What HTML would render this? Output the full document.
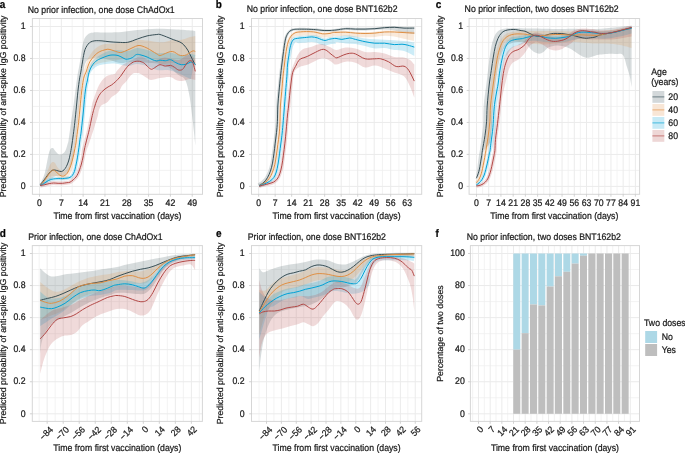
<!DOCTYPE html><html><head><meta charset="utf-8"><style>html,body{margin:0;padding:0;background:#fff;}body{width:685px;height:453px;overflow:hidden;}svg{display:block;will-change:transform;font-family:"Liberation Sans", sans-serif;}svg text{stroke:#1a1a1a;stroke-width:0.22px;text-rendering:geometricPrecision;}</style></head><body>
<svg width="685" height="453" viewBox="0 0 685 453">
<rect width="685" height="453" fill="#fff"/>
<clipPath id="clipa"><rect x="32.4" y="18.5" width="170.1" height="175.8"/></clipPath>
<line x1="32.4" y1="170.41" x2="202.5" y2="170.41" stroke="#f0f0f0" stroke-width="0.8"/><line x1="32.4" y1="138.43" x2="202.5" y2="138.43" stroke="#f0f0f0" stroke-width="0.8"/><line x1="32.4" y1="106.45" x2="202.5" y2="106.45" stroke="#f0f0f0" stroke-width="0.8"/><line x1="32.4" y1="74.47" x2="202.5" y2="74.47" stroke="#f0f0f0" stroke-width="0.8"/><line x1="32.4" y1="42.49" x2="202.5" y2="42.49" stroke="#f0f0f0" stroke-width="0.8"/><line x1="50.41" y1="18.5" x2="50.41" y2="194.3" stroke="#f0f0f0" stroke-width="0.8"/><line x1="72.23" y1="18.5" x2="72.23" y2="194.3" stroke="#f0f0f0" stroke-width="0.8"/><line x1="94.05" y1="18.5" x2="94.05" y2="194.3" stroke="#f0f0f0" stroke-width="0.8"/><line x1="115.87" y1="18.5" x2="115.87" y2="194.3" stroke="#f0f0f0" stroke-width="0.8"/><line x1="137.69" y1="18.5" x2="137.69" y2="194.3" stroke="#f0f0f0" stroke-width="0.8"/><line x1="159.5" y1="18.5" x2="159.5" y2="194.3" stroke="#f0f0f0" stroke-width="0.8"/><line x1="181.32" y1="18.5" x2="181.32" y2="194.3" stroke="#f0f0f0" stroke-width="0.8"/><line x1="32.4" y1="186.4" x2="202.5" y2="186.4" stroke="#ebebeb" stroke-width="1"/><line x1="32.4" y1="154.42" x2="202.5" y2="154.42" stroke="#ebebeb" stroke-width="1"/><line x1="32.4" y1="122.44" x2="202.5" y2="122.44" stroke="#ebebeb" stroke-width="1"/><line x1="32.4" y1="90.46" x2="202.5" y2="90.46" stroke="#ebebeb" stroke-width="1"/><line x1="32.4" y1="58.48" x2="202.5" y2="58.48" stroke="#ebebeb" stroke-width="1"/><line x1="32.4" y1="26.5" x2="202.5" y2="26.5" stroke="#ebebeb" stroke-width="1"/><line x1="39.5" y1="18.5" x2="39.5" y2="194.3" stroke="#ebebeb" stroke-width="1"/><line x1="61.32" y1="18.5" x2="61.32" y2="194.3" stroke="#ebebeb" stroke-width="1"/><line x1="83.14" y1="18.5" x2="83.14" y2="194.3" stroke="#ebebeb" stroke-width="1"/><line x1="104.96" y1="18.5" x2="104.96" y2="194.3" stroke="#ebebeb" stroke-width="1"/><line x1="126.78" y1="18.5" x2="126.78" y2="194.3" stroke="#ebebeb" stroke-width="1"/><line x1="148.59" y1="18.5" x2="148.59" y2="194.3" stroke="#ebebeb" stroke-width="1"/><line x1="170.41" y1="18.5" x2="170.41" y2="194.3" stroke="#ebebeb" stroke-width="1"/><line x1="192.23" y1="18.5" x2="192.23" y2="194.3" stroke="#ebebeb" stroke-width="1"/>
<g clip-path="url(#clipa)">
<path d="M40.2,184.2 C40.97,182.35 43.3,178.45 44.8,173.1 C46.3,167.75 47.9,156.3 49.2,152.1 C50.5,147.9 51.58,148.08 52.6,147.9 C53.62,147.72 54.3,149.93 55.3,151 C56.3,152.07 57.4,153.83 58.6,154.3 C59.8,154.77 61.4,154.35 62.5,153.8 C63.6,153.25 64.37,152.57 65.2,151 C66.03,149.43 66.93,146.23 67.5,144.4 C68.07,142.57 68.02,143.67 68.6,140 C69.18,136.33 70.22,127.92 71,122.4 C71.78,116.88 72.55,112.3 73.3,106.9 C74.05,101.5 74.82,95.15 75.5,90 C76.18,84.85 76.78,80 77.4,76 C78.02,72 78.62,69.35 79.2,66 C79.78,62.65 80.37,59.23 80.9,55.9 C81.43,52.57 81.88,48.65 82.4,46 C82.92,43.35 83.43,41.57 84,40 C84.57,38.43 84.97,37.68 85.8,36.6 C86.63,35.52 87.7,34.2 89,33.5 C90.3,32.8 91.7,32.58 93.6,32.4 C95.5,32.22 97.35,32.4 100.4,32.4 C103.45,32.4 108.3,32.47 111.9,32.4 C115.5,32.33 117.75,32.4 122,32 C126.25,31.6 131.6,30.55 137.4,30 C143.2,29.45 150.32,28.78 156.8,28.7 C163.28,28.62 170.47,29.2 176.3,29.5 C182.13,29.8 188.63,30.22 191.8,30.5 C194.97,30.78 194.72,31.08 195.3,31.2 L195.3,145.5 C195.1,143.52 194.63,138.57 194.1,133.6 C193.57,128.63 192.82,121.67 192.1,115.7 C191.38,109.73 190.68,103.08 189.8,97.8 C188.92,92.52 187.8,87.3 186.8,84 C185.8,80.7 184.93,79.33 183.8,78 C182.67,76.67 181.3,76.83 180,76 C178.7,75.17 177.67,74.33 176,73 C174.33,71.67 172.67,69.5 170,68 C167.33,66.5 163.33,64.83 160,64 C156.67,63.17 153.33,63.33 150,63 C146.67,62.67 143.33,62.17 140,62 C136.67,61.83 133.33,61.83 130,62 C126.67,62.17 123.33,63.33 120,63 C116.67,62.67 113.33,60.83 110,60 C106.67,59.17 102.67,58.33 100,58 C97.33,57.67 95.83,57.83 94,58 C92.17,58.17 90.33,58.33 89,59 C87.67,59.67 86.83,60.5 86,62 C85.17,63.5 84.62,65.33 84,68 C83.38,70.67 82.87,74 82.3,78 C81.73,82 81.15,87.17 80.6,92 C80.05,96.83 79.52,102 79,107 C78.48,112 78.08,116.5 77.5,122 C76.92,127.5 76.17,134.5 75.5,140 C74.83,145.5 74.25,150.67 73.5,155 C72.75,159.33 71.92,163.17 71,166 C70.08,168.83 69,170.5 68,172 C67,173.5 66.33,174.33 65,175 C63.67,175.67 61.67,175.75 60,176 C58.33,176.25 56.67,175.83 55,176.5 C53.33,177.17 51.67,178.75 50,180 C48.33,181.25 46.63,183 45,184 C43.37,185 41,185.67 40.2,186 Z" fill="#374E55" fill-opacity="0.2"/>
<path d="M40.2,184.5 C41,183.25 43.37,180.25 45,177 C46.63,173.75 48.73,167.5 50,165 C51.27,162.5 51.77,162.33 52.6,162 C53.43,161.67 54.1,162 55,163 C55.9,164 56.83,166.67 58,168 C59.17,169.33 60.67,170.67 62,171 C63.33,171.33 64.83,171 66,170 C67.17,169 68,167.5 69,165 C70,162.5 71.17,158.17 72,155 C72.83,151.83 73.33,150.17 74,146 C74.67,141.83 75.33,136 76,130 C76.67,124 77.33,116.33 78,110 C78.67,103.67 79.33,97.17 80,92 C80.67,86.83 81.33,82.67 82,79 C82.67,75.33 83.17,73 84,70 C84.83,67 86,63.5 87,61 C88,58.5 88.67,57 90,55 C91.33,53 93.33,50.58 95,49 C96.67,47.42 98.17,46.33 100,45.5 C101.83,44.67 104,44.33 106,44 C108,43.67 110,43.67 112,43.5 C114,43.33 115.33,43.25 118,43 C120.67,42.75 124.5,42.5 128,42 C131.5,41.5 135.83,40.25 139,40 C142.17,39.75 144,40.17 147,40.5 C150,40.83 154,41.75 157,42 C160,42.25 162.5,42.33 165,42 C167.5,41.67 169.5,40.33 172,40 C174.5,39.67 177.67,40.25 180,40 C182.33,39.75 184.33,39 186,38.5 C187.67,38 188.45,37.42 190,37 C191.55,36.58 194.42,36.17 195.3,36 L195.3,63 C194.42,63 191.88,62.67 190,63 C188.12,63.33 186.33,65 184,65 C181.67,65 178.33,63.33 176,63 C173.67,62.67 172.17,62.83 170,63 C167.83,63.17 165.17,64.17 163,64 C160.83,63.83 159.67,63 157,62 C154.33,61 150,59 147,58 C144,57 142.17,56 139,56 C135.83,56 131.5,57.33 128,58 C124.5,58.67 120.67,59.5 118,60 C115.33,60.5 114,60.67 112,61 C110,61.33 108,61.67 106,62 C104,62.33 101.83,62.5 100,63 C98.17,63.5 96.5,64.17 95,65 C93.5,65.83 92.17,66.67 91,68 C89.83,69.33 88.92,71 88,73 C87.08,75 86.25,76.83 85.5,80 C84.75,83.17 84.12,87.33 83.5,92 C82.88,96.67 82.38,102.67 81.8,108 C81.22,113.33 80.55,119 80,124 C79.45,129 79.08,133.33 78.5,138 C77.92,142.67 77.17,148 76.5,152 C75.83,156 75.25,159 74.5,162 C73.75,165 72.92,167.67 72,170 C71.08,172.33 70,174.5 69,176 C68,177.5 67,178.33 66,179 C65,179.67 64,180 63,180 C62,180 61.33,179.67 60,179 C58.67,178.33 56.67,176.33 55,176 C53.33,175.67 51.67,176.17 50,177 C48.33,177.83 46.63,179.58 45,181 C43.37,182.42 41,184.75 40.2,185.5 Z" fill="#DF8F44" fill-opacity="0.2"/>
<path d="M39.46,183.77 C40.02,183.5 41.74,182.77 42.85,182.13 C43.96,181.49 45,180.61 46.14,179.94 C47.28,179.27 48.49,178.56 49.71,178.11 C50.93,177.66 52.07,177.42 53.46,177.22 C54.85,177.02 56.55,176.95 58.04,176.9 C59.53,176.85 61.17,176.95 62.43,176.9 C63.69,176.85 64.75,176.7 65.62,176.61 C66.49,176.52 67.05,176.45 67.64,176.34 C68.23,176.23 68.57,176.27 69.14,175.94 C69.71,175.61 70.43,175.22 71.04,174.38 C71.65,173.54 72.32,172.25 72.8,170.91 C73.28,169.57 73.55,168.01 73.94,166.32 C74.33,164.63 74.75,162.75 75.13,160.78 C75.51,158.81 75.92,156.37 76.22,154.53 C76.52,152.69 76.69,151.38 76.92,149.76 C77.15,148.13 77.38,146.58 77.61,144.78 C77.84,142.98 78.05,140.81 78.32,138.96 C78.59,137.11 78.92,135.88 79.22,133.67 C79.52,131.46 79.81,128.35 80.11,125.71 C80.41,123.07 80.73,120.46 81.01,117.82 C81.29,115.17 81.56,112.5 81.81,109.84 C82.06,107.18 82.23,104.85 82.51,101.84 C82.79,98.83 83.16,94.65 83.51,91.79 C83.86,88.93 84.3,86.98 84.63,84.68 C84.96,82.38 85.02,80.28 85.5,78 C85.98,75.72 86.75,73.17 87.5,71 C88.25,68.83 89.08,66.75 90,65 C90.92,63.25 91.83,61.83 93,60.5 C94.17,59.17 95.67,58 97,57 C98.33,56 99.5,55.33 101,54.5 C102.5,53.67 104.17,52.67 106,52 C107.83,51.33 110,50.83 112,50.5 C114,50.17 115.33,49.92 118,50 C120.67,50.08 124.83,51.33 128,51 C131.17,50.67 133.83,48.17 137,48 C140.17,47.83 143.67,49.17 147,50 C150.33,50.83 153.83,52.5 157,53 C160.17,53.5 163.5,53 166,53 C168.5,53 169.67,52.67 172,53 C174.33,53.33 177.67,54.67 180,55 C182.33,55.33 184.17,55.17 186,55 C187.83,54.83 189.45,54 191,54 C192.55,54 194.58,54.83 195.3,55 L191,79 C190.17,78.67 187.83,77.83 186,77 C184.17,76.17 182.33,75 180,74 C177.67,73 174.33,71.67 172,71 C169.67,70.33 168.5,70.17 166,70 C163.5,69.83 160.17,70.67 157,70 C153.83,69.33 150.33,67 147,66 C143.67,65 140.17,64 137,64 C133.83,64 131.17,66 128,66 C124.83,66 120.67,64.42 118,64 C115.33,63.58 114,63.5 112,63.5 C110,63.5 108,63.75 106,64 C104,64.25 101.83,64.42 100,65 C98.17,65.58 96.5,66.33 95,67.5 C93.5,68.67 92.08,70.25 91,72 C89.92,73.75 88.77,76.6 88.5,78 C88.23,79.4 89.41,79.15 89.36,80.38 C89.31,81.61 88.55,83.38 88.17,85.36 C87.79,87.34 87.44,89.43 87.09,92.23 C86.74,95.03 86.37,99.19 86.09,102.18 C85.81,105.17 85.64,107.51 85.39,110.18 C85.14,112.85 84.87,115.55 84.59,118.2 C84.31,120.86 83.99,123.45 83.69,126.11 C83.39,128.77 83.08,131.92 82.78,134.15 C82.48,136.38 82.15,137.62 81.88,139.47 C81.61,141.32 81.41,143.44 81.18,145.24 C80.95,147.04 80.71,148.63 80.48,150.27 C80.25,151.91 80.08,153.23 79.78,155.1 C79.48,156.97 79.06,159.46 78.67,161.46 C78.28,163.47 77.87,165.35 77.45,167.13 C77.03,168.91 76.77,170.59 76.18,172.16 C75.59,173.73 74.79,175.39 73.92,176.54 C73.05,177.69 71.89,178.49 70.97,179.04 C70.05,179.59 69.23,179.67 68.4,179.86 C67.57,180.05 66.98,180.08 66.01,180.19 C65.04,180.3 63.88,180.45 62.57,180.5 C61.26,180.55 59.59,180.45 58.16,180.5 C56.73,180.55 55.17,180.62 53.97,180.78 C52.77,180.94 51.96,181.1 50.96,181.48 C49.96,181.86 49.02,182.41 47.97,183.04 C46.92,183.67 45.81,184.59 44.65,185.25 C43.49,185.91 41.63,186.72 41.03,187.01 Z" fill="#00A1D5" fill-opacity="0.2"/>
<path d="M39.86,183.53 C40.62,183.4 42.9,183.06 44.39,182.74 C45.88,182.43 47.28,181.93 48.82,181.64 C50.36,181.35 52.07,181.06 53.63,181 C55.19,180.94 56.72,181.25 58.17,181.3 C59.62,181.35 60.95,181.4 62.36,181.3 C63.77,181.2 65.48,180.87 66.61,180.72 C67.74,180.57 68.28,180.78 69.16,180.38 C70.04,179.97 71.01,179.06 71.89,178.29 C72.77,177.52 73.73,176.67 74.43,175.77 C75.13,174.88 75.58,174.01 76.11,172.92 C76.64,171.83 77.11,170.61 77.62,169.21 C78.13,167.81 78.73,166.1 79.18,164.54 C79.64,162.98 79.99,161.4 80.35,159.85 C80.71,158.3 81.1,156.86 81.34,155.22 C81.58,153.58 81.51,151.64 81.8,150 C82.09,148.36 82.67,147.05 83.1,145.4 C83.53,143.75 83.95,141.87 84.4,140.1 C84.85,138.33 85.35,136.57 85.8,134.8 C86.25,133.03 86.67,131.42 87.1,129.5 C87.53,127.58 87.97,125.37 88.4,123.3 C88.83,121.23 89.25,119.32 89.7,117.1 C90.15,114.88 90.68,112.25 91.1,110 C91.52,107.75 91.75,105.47 92.2,103.6 C92.65,101.73 93.27,100.38 93.8,98.8 C94.33,97.22 94.87,95.6 95.4,94.1 C95.93,92.6 96.38,91.3 97,89.8 C97.62,88.3 98.27,86.65 99.1,85.1 C99.93,83.55 101.02,81.77 102,80.5 C102.98,79.23 104,78.33 105,77.5 C106,76.67 106.83,75.98 108,75.5 C109.17,75.02 110.83,74.88 112,74.6 C113.17,74.32 114.13,74.48 115,73.8 C115.87,73.12 116.37,71.55 117.2,70.5 C118.03,69.45 119.18,68.38 120,67.5 C120.82,66.62 121.1,65.95 122.1,65.2 C123.1,64.45 124.68,63.7 126,63 C127.32,62.3 128.67,61.67 130,61 C131.33,60.33 132.83,59.58 134,59 C135.17,58.42 136,57.92 137,57.5 C138,57.08 139,56.58 140,56.5 C141,56.42 141.17,56.25 143,57 C144.83,57.75 148.33,60.67 151,61 C153.67,61.33 156.67,59.58 159,59 C161.33,58.42 162.83,57.5 165,57.5 C167.17,57.5 169.67,58.58 172,59 C174.33,59.42 177,60.33 179,60 C181,59.67 182.5,57.83 184,57 C185.5,56.17 186.67,55.17 188,55 C189.33,54.83 190.78,55.17 192,56 C193.22,56.83 194.75,59.33 195.3,60 L195.3,80 C194.42,79.83 192.22,78.83 190,79 C187.78,79.17 184.33,80.83 182,81 C179.67,81.17 178,80.67 176,80 C174,79.33 172.67,77.33 170,77 C167.33,76.67 163.17,77.5 160,78 C156.83,78.5 153.17,80 151,80 C148.83,80 148.83,79.05 147,78 C145.17,76.95 141.8,74.53 140,73.7 C138.2,72.87 137.42,73 136.2,73 C134.98,73 133.87,73 132.7,73.7 C131.53,74.4 130.37,75.8 129.2,77.2 C128.03,78.6 126.88,80.68 125.7,82.1 C124.52,83.52 123.12,84.32 122.1,85.7 C121.08,87.08 120.75,88.88 119.6,90.4 C118.45,91.92 116.38,93.78 115.2,94.8 C114.02,95.82 113.23,95.95 112.5,96.5 C111.77,97.05 111.53,97.27 110.8,98.1 C110.07,98.93 109.07,100.58 108.1,101.5 C107.13,102.42 106.05,102.98 105,103.6 C103.95,104.22 102.55,104.72 101.8,105.2 C101.05,105.68 100.97,105.7 100.5,106.5 C100.03,107.3 99.47,108.38 99,110 C98.53,111.62 98.28,113.98 97.7,116.2 C97.12,118.42 96.17,121.08 95.5,123.3 C94.83,125.52 94.3,127.58 93.7,129.5 C93.1,131.42 92.48,133.03 91.9,134.8 C91.32,136.57 90.78,138.33 90.2,140.1 C89.62,141.87 89,143.75 88.4,145.4 C87.8,147.05 87.12,148.24 86.6,150 C86.08,151.76 85.65,154.19 85.26,155.98 C84.87,157.77 84.62,159.14 84.25,160.75 C83.88,162.36 83.5,164.02 83.02,165.66 C82.54,167.3 81.94,169.09 81.38,170.59 C80.82,172.09 80.33,173.41 79.69,174.68 C79.05,175.95 78.43,177.12 77.57,178.23 C76.71,179.33 75.63,180.34 74.51,181.31 C73.39,182.28 72.06,183.46 70.84,184.02 C69.62,184.58 68.56,184.47 67.19,184.68 C65.82,184.89 64.17,185.2 62.64,185.3 C61.11,185.4 59.51,185.35 58.03,185.3 C56.55,185.25 55.18,184.96 53.77,185 C52.36,185.04 51.01,185.28 49.58,185.56 C48.15,185.84 46.72,186.34 45.21,186.66 C43.7,186.98 41.32,187.34 40.54,187.47 Z" fill="#B24745" fill-opacity="0.2"/>
<path d="M40.2,184.7 C40.6,184.23 41.65,183.1 42.6,181.9 C43.55,180.7 44.8,178.97 45.9,177.5 C47,176.03 48.18,174.28 49.2,173.1 C50.22,171.92 51.07,170.92 52,170.4 C52.93,169.88 53.78,169.92 54.8,170 C55.82,170.08 57,170.65 58.1,170.9 C59.2,171.15 60.4,171.68 61.4,171.5 C62.4,171.32 63.27,170.63 64.1,169.8 C64.93,168.97 65.65,167.97 66.4,166.5 C67.15,165.03 67.97,163.03 68.6,161 C69.23,158.97 69.68,156.8 70.2,154.3 C70.72,151.8 71.18,149.27 71.7,146 C72.22,142.73 72.78,138.63 73.3,134.7 C73.82,130.77 74.28,127.03 74.8,122.4 C75.32,117.77 75.88,112.05 76.4,106.9 C76.92,101.75 77.38,96.13 77.9,91.5 C78.42,86.87 79.03,82.2 79.5,79.1 C79.97,76 80.27,75.38 80.7,72.9 C81.13,70.42 81.62,67.12 82.1,64.2 C82.58,61.28 83.12,57.83 83.6,55.4 C84.08,52.97 84.43,51.22 85,49.6 C85.57,47.98 86.27,46.83 87,45.7 C87.73,44.57 88.52,43.53 89.4,42.8 C90.28,42.07 91.17,41.65 92.3,41.3 C93.43,40.95 94.58,40.77 96.2,40.7 C97.82,40.63 99.7,40.72 102,40.9 C104.3,41.08 107.33,41.57 110,41.8 C112.67,42.03 115.05,42.22 118,42.3 C120.95,42.38 124.47,42.85 127.7,42.3 C130.93,41.75 134.17,40.07 137.4,39 C140.63,37.93 143.87,36.65 147.1,35.9 C150.33,35.15 154.65,34.73 156.8,34.5 C158.95,34.27 158.37,34.1 160,34.5 C161.63,34.9 164.4,36.05 166.6,36.9 C168.8,37.75 170.98,38.75 173.2,39.6 C175.42,40.45 178.13,41.12 179.9,42 C181.67,42.88 182.48,43.53 183.8,44.9 C185.12,46.27 186.58,48.22 187.8,50.2 C189.02,52.18 190.1,54.82 191.1,56.8 C192.1,58.78 193.1,60.8 193.8,62.1 C194.5,63.4 195.05,64.18 195.3,64.6" fill="none" stroke="#374E55" stroke-width="1.0" stroke-linejoin="round" stroke-linecap="butt"/>
<path d="M40.2,185 C40.6,184.67 41.65,184.07 42.6,183 C43.55,181.93 44.8,180.15 45.9,178.6 C47,177.05 48.18,175.07 49.2,173.7 C50.22,172.33 51.17,170.95 52,170.4 C52.83,169.85 53.37,170.03 54.2,170.4 C55.03,170.77 56.08,171.82 57,172.6 C57.92,173.38 58.78,174.5 59.7,175.1 C60.62,175.7 61.58,176.17 62.5,176.2 C63.42,176.23 64.28,176 65.2,175.3 C66.12,174.6 67.07,173.65 68,172 C68.93,170.35 69.97,167.78 70.8,165.4 C71.63,163.02 72.37,160.27 73,157.7 C73.63,155.13 74.13,152.28 74.6,150 C75.07,147.72 75.4,146.55 75.8,144 C76.2,141.45 76.53,138.3 77,134.7 C77.47,131.1 78.08,127.02 78.6,122.4 C79.12,117.78 79.6,112.07 80.1,107 C80.6,101.93 81.07,96.5 81.6,92 C82.13,87.5 82.77,82.87 83.3,80 C83.83,77.13 84.27,76.3 84.8,74.8 C85.33,73.3 85.97,72.45 86.5,71 C87.03,69.55 87.43,67.65 88,66.1 C88.57,64.55 89.18,63 89.9,61.7 C90.62,60.4 91.42,59.43 92.3,58.3 C93.18,57.17 94.22,55.87 95.2,54.9 C96.18,53.93 97.22,53.15 98.2,52.5 C99.18,51.85 100.13,51.4 101.1,51 C102.07,50.6 102.87,50.4 104,50.1 C105.13,49.8 106.58,49.2 107.9,49.2 C109.22,49.2 110.65,49.75 111.9,50.1 C113.15,50.45 114.25,50.92 115.4,51.3 C116.55,51.68 117.7,52.23 118.8,52.4 C119.9,52.57 120.52,52.7 122,52.3 C123.48,51.9 125.87,50.8 127.7,50 C129.53,49.2 131.28,48.25 133,47.5 C134.72,46.75 136.5,45.75 138,45.5 C139.5,45.25 140.48,45.57 142,46 C143.52,46.43 145.43,47.27 147.1,48.1 C148.77,48.93 150.38,50.03 152,51 C153.62,51.97 155.47,53.15 156.8,53.9 C158.13,54.65 158.58,55.57 160,55.5 C161.42,55.43 163.53,54.17 165.3,53.5 C167.07,52.83 169.05,51.72 170.6,51.5 C172.15,51.28 173.28,51.65 174.6,52.2 C175.92,52.75 177.18,54.22 178.5,54.8 C179.82,55.38 181.17,55.7 182.5,55.7 C183.83,55.7 185.17,55.38 186.5,54.8 C187.83,54.22 189.4,52.87 190.5,52.2 C191.6,51.53 192.3,50.92 193.1,50.8 C193.9,50.68 194.93,51.38 195.3,51.5" fill="none" stroke="#DF8F44" stroke-width="1.0" stroke-linejoin="round" stroke-linecap="butt"/>
<path d="M40.2,185.3 C40.78,185.02 42.57,184.25 43.7,183.6 C44.83,182.95 45.9,182.05 47,181.4 C48.1,180.75 49.18,180.12 50.3,179.7 C51.42,179.28 52.4,179.08 53.7,178.9 C55,178.72 56.63,178.65 58.1,178.6 C59.57,178.55 61.22,178.65 62.5,178.6 C63.78,178.55 64.88,178.4 65.8,178.3 C66.72,178.2 67.3,178.15 68,178 C68.7,177.85 69.27,177.83 70,177.4 C70.73,176.97 71.67,176.38 72.4,175.4 C73.13,174.42 73.87,172.95 74.4,171.5 C74.93,170.05 75.2,168.43 75.6,166.7 C76,164.97 76.42,163.08 76.8,161.1 C77.18,159.12 77.6,156.65 77.9,154.8 C78.2,152.95 78.37,151.63 78.6,150 C78.83,148.37 79.07,146.8 79.3,145 C79.53,143.2 79.73,141.05 80,139.2 C80.27,137.35 80.6,136.12 80.9,133.9 C81.2,131.68 81.5,128.55 81.8,125.9 C82.1,123.25 82.42,120.65 82.7,118 C82.98,115.35 83.25,112.67 83.5,110 C83.75,107.33 83.92,105 84.2,102 C84.48,99 84.85,94.83 85.2,92 C85.55,89.17 85.92,87 86.3,85 C86.68,83 87.15,81.7 87.5,80 C87.85,78.3 88,76.47 88.4,74.8 C88.8,73.13 89.33,71.45 89.9,70 C90.47,68.55 91.07,67.32 91.8,66.1 C92.53,64.88 93.4,63.67 94.3,62.7 C95.2,61.73 96.23,60.95 97.2,60.3 C98.17,59.65 99.13,59.25 100.1,58.8 C101.07,58.35 102.03,58 103,57.6 C103.97,57.2 104.73,56.8 105.9,56.4 C107.07,56 108.65,55.43 110,55.2 C111.35,54.97 112.67,54.95 114,55 C115.33,55.05 116.65,55.1 118,55.5 C119.35,55.9 120.82,56.78 122.1,57.4 C123.38,58.02 124.52,58.97 125.7,59.2 C126.88,59.43 128.03,59.1 129.2,58.8 C130.37,58.5 131.48,58.12 132.7,57.4 C133.92,56.68 135.12,54.9 136.5,54.5 C137.88,54.1 139.23,54.58 141,55 C142.77,55.42 145.27,56.25 147.1,57 C148.93,57.75 150.38,58.83 152,59.5 C153.62,60.17 155.47,60.9 156.8,61 C158.13,61.1 158.58,60.13 160,60.1 C161.42,60.07 163.53,60.87 165.3,60.8 C167.07,60.73 168.83,59.38 170.6,59.7 C172.37,60.02 174.13,61.87 175.9,62.7 C177.67,63.53 179.43,64.47 181.2,64.7 C182.97,64.93 184.95,64.53 186.5,64.1 C188.05,63.67 189.4,62.33 190.5,62.1 C191.6,61.87 192.3,62.3 193.1,62.7 C193.9,63.1 194.93,64.2 195.3,64.5" fill="none" stroke="#00A1D5" stroke-width="1.0" stroke-linejoin="round" stroke-linecap="butt"/>
<path d="M40.2,185.5 C40.97,185.37 43.3,185.02 44.8,184.7 C46.3,184.38 47.72,183.88 49.2,183.6 C50.68,183.32 52.22,183.05 53.7,183 C55.18,182.95 56.63,183.25 58.1,183.3 C59.57,183.35 61.03,183.4 62.5,183.3 C63.97,183.2 65.65,182.88 66.9,182.7 C68.15,182.52 68.95,182.68 70,182.2 C71.05,181.72 72.2,180.67 73.2,179.8 C74.2,178.93 75.22,178 76,177 C76.78,176 77.32,174.98 77.9,173.8 C78.48,172.62 78.97,171.35 79.5,169.9 C80.03,168.45 80.63,166.7 81.1,165.1 C81.57,163.5 81.93,161.88 82.3,160.3 C82.67,158.72 82.97,157.32 83.3,155.6 C83.63,153.88 83.97,151.7 84.3,150 C84.63,148.3 84.92,147.05 85.3,145.4 C85.68,143.75 86.15,141.87 86.6,140.1 C87.05,138.33 87.55,136.57 88,134.8 C88.45,133.03 88.87,131.42 89.3,129.5 C89.73,127.58 90.17,125.37 90.6,123.3 C91.03,121.23 91.42,119.23 91.9,117.1 C92.38,114.97 93.05,112.18 93.5,110.5 C93.95,108.82 94.25,108.15 94.6,107 C94.95,105.85 95.23,104.72 95.6,103.6 C95.97,102.48 96.35,101.4 96.8,100.3 C97.25,99.2 97.73,98.08 98.3,97 C98.87,95.92 99.53,94.73 100.2,93.8 C100.87,92.87 101.5,92.2 102.3,91.4 C103.1,90.6 104.03,89.75 105,89 C105.97,88.25 107.02,87.57 108.1,86.9 C109.18,86.23 110.33,85.8 111.5,85 C112.67,84.2 114.03,83.05 115.1,82.1 C116.17,81.15 117.02,80.23 117.9,79.3 C118.78,78.37 119.58,77.55 120.4,76.5 C121.22,75.45 121.98,74.18 122.8,73 C123.62,71.82 124.47,70.53 125.3,69.4 C126.13,68.27 126.92,67.13 127.8,66.2 C128.68,65.27 129.67,64.5 130.6,63.8 C131.53,63.1 132.47,62.42 133.4,62 C134.33,61.58 135.18,61.42 136.2,61.3 C137.22,61.18 138.45,61.13 139.5,61.3 C140.55,61.47 141.67,61.95 142.5,62.3 C143.33,62.65 143.67,62.7 144.5,63.4 C145.33,64.1 146.42,65.53 147.5,66.5 C148.58,67.47 150,68.87 151,69.2 C152,69.53 152.67,68.9 153.5,68.5 C154.33,68.1 154.92,67.43 156,66.8 C157.08,66.17 158.45,64.82 160,64.7 C161.55,64.58 163.53,65.98 165.3,66.1 C167.07,66.22 169.05,65.18 170.6,65.4 C172.15,65.62 173.28,66.63 174.6,67.4 C175.92,68.17 177.18,69.67 178.5,70 C179.82,70.33 181.28,70.28 182.5,69.4 C183.72,68.52 184.8,66.03 185.8,64.7 C186.8,63.37 187.62,62.05 188.5,61.4 C189.38,60.75 190.33,60.47 191.1,60.8 C191.87,61.13 192.4,61.63 193.1,63.4 C193.8,65.17 194.93,70.07 195.3,71.4" fill="none" stroke="#B24745" stroke-width="1.0" stroke-linejoin="round" stroke-linecap="butt"/>
</g>
<rect x="32.4" y="18.5" width="170.1" height="175.8" fill="none" stroke="#d6d6d6" stroke-width="1"/>
<line x1="30" y1="186.4" x2="32.4" y2="186.4" stroke="#c8c8c8" stroke-width="0.8"/><line x1="30" y1="154.42" x2="32.4" y2="154.42" stroke="#c8c8c8" stroke-width="0.8"/><line x1="30" y1="122.44" x2="32.4" y2="122.44" stroke="#c8c8c8" stroke-width="0.8"/><line x1="30" y1="90.46" x2="32.4" y2="90.46" stroke="#c8c8c8" stroke-width="0.8"/><line x1="30" y1="58.48" x2="32.4" y2="58.48" stroke="#c8c8c8" stroke-width="0.8"/><line x1="30" y1="26.5" x2="32.4" y2="26.5" stroke="#c8c8c8" stroke-width="0.8"/><line x1="39.5" y1="194.3" x2="39.5" y2="196.7" stroke="#c8c8c8" stroke-width="0.8"/><line x1="61.32" y1="194.3" x2="61.32" y2="196.7" stroke="#c8c8c8" stroke-width="0.8"/><line x1="83.14" y1="194.3" x2="83.14" y2="196.7" stroke="#c8c8c8" stroke-width="0.8"/><line x1="104.96" y1="194.3" x2="104.96" y2="196.7" stroke="#c8c8c8" stroke-width="0.8"/><line x1="126.78" y1="194.3" x2="126.78" y2="196.7" stroke="#c8c8c8" stroke-width="0.8"/><line x1="148.59" y1="194.3" x2="148.59" y2="196.7" stroke="#c8c8c8" stroke-width="0.8"/><line x1="170.41" y1="194.3" x2="170.41" y2="196.7" stroke="#c8c8c8" stroke-width="0.8"/><line x1="192.23" y1="194.3" x2="192.23" y2="196.7" stroke="#c8c8c8" stroke-width="0.8"/>
<text transform="translate(25.6,189.1) scale(1,1.1)" font-size="8.73" text-anchor="end" font-weight="normal" fill="#1a1a1a">0</text>
<text transform="translate(25.6,157.12) scale(1,1.1)" font-size="8.73" text-anchor="end" font-weight="normal" fill="#1a1a1a">0.2</text>
<text transform="translate(25.6,125.14) scale(1,1.1)" font-size="8.73" text-anchor="end" font-weight="normal" fill="#1a1a1a">0.4</text>
<text transform="translate(25.6,93.16) scale(1,1.1)" font-size="8.73" text-anchor="end" font-weight="normal" fill="#1a1a1a">0.6</text>
<text transform="translate(25.6,61.18) scale(1,1.1)" font-size="8.73" text-anchor="end" font-weight="normal" fill="#1a1a1a">0.8</text>
<text transform="translate(25.6,29.2) scale(1,1.1)" font-size="8.73" text-anchor="end" font-weight="normal" fill="#1a1a1a">1</text>
<text transform="translate(39.5,205.6) scale(1,1.1)" font-size="8.73" text-anchor="middle" font-weight="normal" fill="#1a1a1a">0</text>
<text transform="translate(61.32,205.6) scale(1,1.1)" font-size="8.73" text-anchor="middle" font-weight="normal" fill="#1a1a1a">7</text>
<text transform="translate(83.14,205.6) scale(1,1.1)" font-size="8.73" text-anchor="middle" font-weight="normal" fill="#1a1a1a">14</text>
<text transform="translate(104.96,205.6) scale(1,1.1)" font-size="8.73" text-anchor="middle" font-weight="normal" fill="#1a1a1a">21</text>
<text transform="translate(126.78,205.6) scale(1,1.1)" font-size="8.73" text-anchor="middle" font-weight="normal" fill="#1a1a1a">28</text>
<text transform="translate(148.59,205.6) scale(1,1.1)" font-size="8.73" text-anchor="middle" font-weight="normal" fill="#1a1a1a">35</text>
<text transform="translate(170.41,205.6) scale(1,1.1)" font-size="8.73" text-anchor="middle" font-weight="normal" fill="#1a1a1a">42</text>
<text transform="translate(192.23,205.6) scale(1,1.1)" font-size="8.73" text-anchor="middle" font-weight="normal" fill="#1a1a1a">49</text>
<text transform="translate(27.8,12.6) scale(1,1.1)" font-size="8.73" text-anchor="start" font-weight="normal" fill="#1a1a1a">No prior infection, one dose ChAdOx1</text>
<text transform="translate(117.45,219) scale(1,1.1)" font-size="8.73" text-anchor="middle" font-weight="normal" fill="#1a1a1a">Time from first vaccination (days)</text>
<text transform="translate(6,106.4) rotate(-90)" font-size="8.77" text-anchor="middle" fill="#1a1a1a">Predicted probability of anti-spike IgG positivity</text>
<text transform="translate(-0.3,7.9) scale(1,1.1)" font-size="10" text-anchor="start" font-weight="bold" fill="#000">a</text>
<clipPath id="clipb"><rect x="251.5" y="18.5" width="170.2" height="175.8"/></clipPath>
<line x1="251.5" y1="170.41" x2="421.7" y2="170.41" stroke="#f0f0f0" stroke-width="0.8"/><line x1="251.5" y1="138.43" x2="421.7" y2="138.43" stroke="#f0f0f0" stroke-width="0.8"/><line x1="251.5" y1="106.45" x2="421.7" y2="106.45" stroke="#f0f0f0" stroke-width="0.8"/><line x1="251.5" y1="74.47" x2="421.7" y2="74.47" stroke="#f0f0f0" stroke-width="0.8"/><line x1="251.5" y1="42.49" x2="421.7" y2="42.49" stroke="#f0f0f0" stroke-width="0.8"/><line x1="266.9" y1="18.5" x2="266.9" y2="194.3" stroke="#f0f0f0" stroke-width="0.8"/><line x1="283.41" y1="18.5" x2="283.41" y2="194.3" stroke="#f0f0f0" stroke-width="0.8"/><line x1="299.91" y1="18.5" x2="299.91" y2="194.3" stroke="#f0f0f0" stroke-width="0.8"/><line x1="316.42" y1="18.5" x2="316.42" y2="194.3" stroke="#f0f0f0" stroke-width="0.8"/><line x1="332.93" y1="18.5" x2="332.93" y2="194.3" stroke="#f0f0f0" stroke-width="0.8"/><line x1="349.43" y1="18.5" x2="349.43" y2="194.3" stroke="#f0f0f0" stroke-width="0.8"/><line x1="365.94" y1="18.5" x2="365.94" y2="194.3" stroke="#f0f0f0" stroke-width="0.8"/><line x1="382.44" y1="18.5" x2="382.44" y2="194.3" stroke="#f0f0f0" stroke-width="0.8"/><line x1="398.95" y1="18.5" x2="398.95" y2="194.3" stroke="#f0f0f0" stroke-width="0.8"/><line x1="415.46" y1="18.5" x2="415.46" y2="194.3" stroke="#f0f0f0" stroke-width="0.8"/><line x1="251.5" y1="186.4" x2="421.7" y2="186.4" stroke="#ebebeb" stroke-width="1"/><line x1="251.5" y1="154.42" x2="421.7" y2="154.42" stroke="#ebebeb" stroke-width="1"/><line x1="251.5" y1="122.44" x2="421.7" y2="122.44" stroke="#ebebeb" stroke-width="1"/><line x1="251.5" y1="90.46" x2="421.7" y2="90.46" stroke="#ebebeb" stroke-width="1"/><line x1="251.5" y1="58.48" x2="421.7" y2="58.48" stroke="#ebebeb" stroke-width="1"/><line x1="251.5" y1="26.5" x2="421.7" y2="26.5" stroke="#ebebeb" stroke-width="1"/><line x1="258.65" y1="18.5" x2="258.65" y2="194.3" stroke="#ebebeb" stroke-width="1"/><line x1="275.16" y1="18.5" x2="275.16" y2="194.3" stroke="#ebebeb" stroke-width="1"/><line x1="291.66" y1="18.5" x2="291.66" y2="194.3" stroke="#ebebeb" stroke-width="1"/><line x1="308.17" y1="18.5" x2="308.17" y2="194.3" stroke="#ebebeb" stroke-width="1"/><line x1="324.67" y1="18.5" x2="324.67" y2="194.3" stroke="#ebebeb" stroke-width="1"/><line x1="341.18" y1="18.5" x2="341.18" y2="194.3" stroke="#ebebeb" stroke-width="1"/><line x1="357.69" y1="18.5" x2="357.69" y2="194.3" stroke="#ebebeb" stroke-width="1"/><line x1="374.19" y1="18.5" x2="374.19" y2="194.3" stroke="#ebebeb" stroke-width="1"/><line x1="390.7" y1="18.5" x2="390.7" y2="194.3" stroke="#ebebeb" stroke-width="1"/><line x1="407.2" y1="18.5" x2="407.2" y2="194.3" stroke="#ebebeb" stroke-width="1"/>
<g clip-path="url(#clipb)">
<path d="M257.65,183.71 C258.4,183.18 260.84,181.72 262.14,180.54 C263.44,179.36 264.43,178.29 265.47,176.61 C266.51,174.94 267.57,172.8 268.4,170.49 C269.23,168.18 269.88,165.57 270.47,162.74 C271.06,159.91 271.47,156.82 271.94,153.53 C272.41,150.24 272.85,146.49 273.31,142.97 C273.77,139.45 274.3,135.98 274.68,132.41 C275.06,128.84 275.37,125.99 275.61,121.57 C275.85,117.14 275.81,110.85 276.1,105.86 C276.39,100.87 276.89,96.59 277.37,91.64 C277.85,86.69 278.46,80.61 278.95,76.14 C279.44,71.67 279.8,68.96 280.33,64.82 C280.86,60.68 281.51,55.49 282.13,51.31 C282.75,47.13 283.39,42.59 284.03,39.73 C284.66,36.86 285.13,35.71 285.94,34.12 C286.75,32.53 287.7,31.16 288.87,30.2 C290.04,29.24 291.51,28.72 292.98,28.34 C294.45,27.96 295.4,27.97 297.66,27.9 C299.92,27.83 303.57,27.83 306.53,27.9 C309.48,27.97 313.16,28.15 315.39,28.3 C317.62,28.45 318.45,28.66 319.93,28.81 C321.41,28.96 322.58,29.13 324.25,29.2 C325.92,29.27 328.01,29.28 329.94,29.2 C331.87,29.12 333.23,29.01 335.85,28.71 C338.47,28.41 342.38,27.55 345.64,27.4 C348.9,27.25 352.19,27.73 355.43,27.8 C358.67,27.87 361.86,27.87 365.07,27.8 C368.28,27.73 371.49,27.63 374.71,27.4 C377.93,27.17 381.14,26.63 384.41,26.4 C387.68,26.17 391.06,25.93 394.33,26 C397.6,26.07 400.72,26.67 404.05,26.8 C407.38,26.93 412.59,26.8 414.3,26.8 L414.3,34.1 C412.55,33.87 407.16,33.3 403.82,32.71 C400.48,32.12 397.43,31.09 394.23,30.58 C391.03,30.06 387.86,29.72 384.64,29.62 C381.42,29.52 378.14,29.87 374.89,30 C371.64,30.13 368.38,30.33 365.13,30.4 C361.88,30.47 358.6,30.47 355.37,30.4 C352.14,30.33 348.96,29.85 345.76,30 C342.56,30.15 338.77,30.99 336.15,31.29 C333.53,31.59 332.06,31.71 330.06,31.8 C328.06,31.89 325.88,31.87 324.15,31.8 C322.42,31.73 321.16,31.54 319.67,31.39 C318.18,31.24 317.41,31.05 315.21,30.9 C313.01,30.75 309.38,30.57 306.47,30.5 C303.56,30.43 299.88,30.44 297.74,30.5 C295.6,30.56 294.82,30.58 293.62,30.86 C292.42,31.14 291.42,31.46 290.53,32.2 C289.64,32.94 288.92,33.94 288.26,35.28 C287.6,36.62 287.15,37.54 286.57,40.27 C285.99,43 285.37,47.53 284.79,51.68 C284.21,55.83 283.59,61.03 283.09,65.16 C282.59,69.29 282.26,71.98 281.79,76.44 C281.32,80.9 280.74,86.99 280.29,91.93 C279.85,96.87 279.39,101.12 279.12,106.1 C278.85,111.08 278.9,117.36 278.68,121.8 C278.46,126.24 278.16,129.15 277.79,132.74 C277.43,136.33 276.92,139.82 276.49,143.36 C276.06,146.9 275.64,150.64 275.19,153.97 C274.74,157.3 274.37,160.41 273.78,163.33 C273.19,166.25 272.53,168.97 271.66,171.47 C270.79,173.97 269.69,176.35 268.55,178.31 C267.41,180.27 266.25,181.8 264.82,183.22 C263.39,184.64 260.79,186.24 259.98,186.84 Z" fill="#374E55" fill-opacity="0.2"/>
<path d="M258.5,184.59 C259.49,184.02 262.84,182.36 264.46,181.18 C266.07,180 267.09,179.06 268.19,177.52 C269.29,175.98 270.18,174.19 271.05,171.95 C271.92,169.71 272.77,166.94 273.43,164.11 C274.09,161.28 274.52,158.27 275.02,154.99 C275.52,151.71 275.95,147.94 276.41,144.42 C276.88,140.9 277.45,137.66 277.81,133.86 C278.17,130.06 278.38,126.27 278.58,121.61 C278.78,116.95 278.72,110.87 279.01,105.88 C279.3,100.89 279.88,96.62 280.31,91.67 C280.74,86.72 281.16,80.63 281.61,76.16 C282.06,71.69 282.56,68.52 283.01,64.83 C283.46,61.13 283.8,57.45 284.32,53.99 C284.84,50.53 285.45,46.78 286.14,44.06 C286.83,41.34 287.57,39.4 288.45,37.67 C289.33,35.94 290.28,34.76 291.44,33.68 C292.6,32.6 293.97,31.71 295.43,31.18 C296.89,30.65 298.34,30.67 300.18,30.51 C302.02,30.35 304.24,30.2 306.5,30.2 C308.76,30.2 311.78,30.3 313.75,30.51 C315.72,30.72 316.83,31.11 318.3,31.43 C319.77,31.75 321.32,32.25 322.58,32.41 C323.83,32.57 324.63,32.46 325.83,32.4 C327.02,32.34 328.66,32.22 329.75,32.02 C330.84,31.82 331.34,31.39 332.37,31.22 C333.4,31.05 333.73,31.07 335.96,31 C338.19,30.93 342.5,30.68 345.75,30.8 C349,30.92 352.26,31.48 355.49,31.7 C358.72,31.92 361.9,32.1 365.1,32.1 C368.3,32.1 371.47,31.95 374.69,31.7 C377.91,31.45 381.15,30.78 384.42,30.6 C387.69,30.42 391.06,30.5 394.34,30.6 C397.62,30.7 400.74,31.02 404.08,31.2 C407.42,31.38 412.65,31.62 414.37,31.7 L413.91,41.09 C412.2,40.72 406.95,39.6 403.66,38.84 C400.37,38.08 397.32,37.06 394.16,36.55 C391,36.04 387.89,35.73 384.71,35.79 C381.53,35.85 378.36,36.64 375.09,36.89 C371.82,37.14 368.42,37.3 365.1,37.3 C361.78,37.3 358.41,37.11 355.15,36.89 C351.89,36.67 348.73,36.12 345.56,36 C342.39,35.88 338.18,36.14 336.12,36.2 C334.06,36.26 334.13,36.19 333.22,36.35 C332.31,36.51 331.86,36.93 330.67,37.14 C329.48,37.35 327.56,37.52 326.1,37.59 C324.64,37.66 323.4,37.75 321.92,37.57 C320.44,37.39 318.65,36.82 317.2,36.51 C315.75,36.2 314.99,35.87 313.21,35.68 C311.43,35.49 308.6,35.4 306.5,35.4 C304.4,35.4 302.18,35.58 300.62,35.69 C299.06,35.8 298.19,35.86 297.16,36.06 C296.13,36.26 295.33,36.34 294.45,36.9 C293.56,37.45 292.7,38.06 291.85,39.39 C291,40.72 290.13,42.36 289.37,44.87 C288.61,47.38 287.84,51.05 287.28,54.44 C286.72,57.83 286.44,61.52 285.99,65.19 C285.54,68.86 285.04,72 284.59,76.46 C284.14,80.92 283.72,87 283.29,91.95 C282.86,96.9 282.29,101.15 282.01,106.13 C281.73,111.11 281.79,117.14 281.59,121.81 C281.39,126.48 281.16,130.33 280.79,134.16 C280.42,137.99 279.86,141.26 279.39,144.81 C278.92,148.36 278.48,152.12 277.98,155.44 C277.48,158.76 277.06,161.82 276.37,164.73 C275.68,167.64 274.82,170.5 273.85,172.91 C272.88,175.32 271.84,177.41 270.58,179.19 C269.31,180.97 268.02,182.25 266.26,183.58 C264.5,184.91 261.04,186.59 260,187.19 Z" fill="#DF8F44" fill-opacity="0.2"/>
<path d="M258.63,184.3 C259.84,183.84 263.88,182.52 265.91,181.56 C267.94,180.6 269.5,179.74 270.81,178.53 C272.12,177.32 272.94,176.07 273.75,174.32 C274.56,172.57 275.06,170.63 275.64,168.05 C276.22,165.47 276.73,162.15 277.22,158.86 C277.72,155.57 278.15,151.81 278.61,148.29 C279.07,144.76 279.59,141.18 280.01,137.71 C280.43,134.24 280.71,131.76 281.11,127.45 C281.51,123.14 281.93,117.83 282.41,111.87 C282.89,105.91 283.53,97.62 284.01,91.67 C284.49,85.72 284.98,80.66 285.3,76.19 C285.62,71.72 285.6,68.27 285.91,64.85 C286.23,61.43 286.75,58.68 287.19,55.66 C287.63,52.64 288.03,49.18 288.55,46.74 C289.07,44.3 289.55,42.57 290.32,41.03 C291.09,39.49 291.97,38.3 293.15,37.52 C294.33,36.74 295.92,36.62 297.38,36.34 C298.84,36.06 300.41,35.97 301.9,35.81 C303.39,35.66 304.66,35.56 306.32,35.41 C307.98,35.26 309.99,34.82 311.88,34.9 C313.77,34.98 315.93,35.4 317.64,35.87 C319.35,36.34 320.89,37.27 322.14,37.71 C323.39,38.15 324.33,38.47 325.16,38.5 C326,38.53 326.4,38.11 327.15,37.88 C327.9,37.65 328.19,37.38 329.67,37.13 C331.15,36.88 332.68,36.67 336,36.4 C339.32,36.13 344.75,35.17 349.6,35.5 C354.45,35.83 359.28,37.7 365.1,38.4 C370.92,39.1 378.02,39.28 384.5,39.7 C390.98,40.12 399.03,40.47 404,40.9 C408.97,41.33 412.58,42.07 414.3,42.3 L414.3,56 C412.58,55.17 407.33,52 404,51 C400.67,50 397.55,50.5 394.3,50 C391.05,49.5 387.75,48.25 384.5,48 C381.25,47.75 378.03,48.83 374.8,48.5 C371.57,48.17 368.33,46.75 365.1,46 C361.87,45.25 358.63,44.42 355.4,44 C352.17,43.58 348.93,43.78 345.7,43.5 C342.47,43.22 337.64,42.32 336,42.3 C334.36,42.28 336.73,43.11 335.87,43.4 C335.01,43.69 331.96,43.83 330.83,44.03 C329.7,44.23 330.05,44.37 329.07,44.61 C328.09,44.85 326.47,45.55 324.94,45.5 C323.41,45.45 321.43,44.82 319.9,44.34 C318.37,43.86 317.14,43.03 315.76,42.62 C314.38,42.21 313.08,41.94 311.61,41.9 C310.14,41.86 308.46,42.23 306.96,42.38 C305.46,42.53 304.02,42.64 302.61,42.77 C301.2,42.9 299.59,43.22 298.49,43.14 C297.39,43.06 296.68,42.31 296.04,42.31 C295.4,42.31 295.2,42.25 294.64,43.14 C294.07,44.03 293.28,45.46 292.65,47.64 C292.01,49.82 291.39,53.29 290.83,56.21 C290.27,59.13 289.65,61.8 289.29,65.17 C288.94,68.54 289.02,71.97 288.7,76.43 C288.38,80.89 287.88,86 287.39,91.95 C286.9,97.9 286.27,106.18 285.79,112.15 C285.31,118.12 284.89,123.44 284.49,127.77 C284.09,132.1 283.81,134.62 283.39,138.11 C282.97,141.61 282.45,145.2 281.98,148.74 C281.51,152.28 281.08,156.03 280.58,159.37 C280.08,162.71 279.58,166.07 278.96,168.8 C278.33,171.53 277.8,173.72 276.83,175.76 C275.86,177.8 274.7,179.54 273.13,181.02 C271.56,182.5 269.6,183.54 267.38,184.62 C265.16,185.7 261.1,187 259.84,187.48 Z" fill="#00A1D5" fill-opacity="0.2"/>
<path d="M258.75,184.46 C259.98,184.15 263.85,183.2 266.12,182.57 C268.39,181.94 270.79,181.47 272.4,180.69 C274.01,179.91 274.82,179.16 275.77,177.9 C276.72,176.64 277.39,175.18 278.1,173.11 C278.81,171.04 279.44,168.49 280.03,165.46 C280.62,162.44 281.11,158.7 281.62,154.96 C282.13,151.22 282.64,147.19 283.11,143 C283.58,138.81 283.98,134.53 284.41,129.83 C284.84,125.13 285.31,118.82 285.71,114.82 C286.11,110.82 286.46,109.03 286.81,105.81 C287.16,102.59 287.43,99.19 287.81,95.51 C288.19,91.84 288.59,87.69 289.12,83.76 C289.65,79.83 290.06,75.54 290.97,71.91 C291.88,68.28 293.48,64.82 294.6,62 C295.72,59.18 296.45,57.05 297.7,55 C298.95,52.95 300.63,50.87 302.1,49.7 C303.57,48.53 305.03,48.43 306.5,48 C307.97,47.57 309.43,47.55 310.9,47.1 C312.37,46.65 313.82,45.82 315.3,45.3 C316.78,44.78 318.32,44.15 319.8,44 C321.28,43.85 322.5,43.88 324.2,44.4 C325.9,44.92 328.03,46.17 330,47.1 C331.97,48.03 333.38,49.93 336,50 C338.62,50.07 342.47,47.75 345.7,47.5 C348.93,47.25 352.17,47.75 355.4,48.5 C358.63,49.25 361.87,51.42 365.1,52 C368.33,52.58 371.57,51.75 374.8,52 C378.03,52.25 381.25,52.67 384.5,53.5 C387.75,54.33 391.05,56.33 394.3,57 C397.55,57.67 401.38,57 404,57.5 C406.62,58 408.28,58.82 410,60 C411.72,61.18 413.58,63.83 414.3,64.6 L414.3,97.6 C413.55,95.67 411.52,89.55 409.8,86 C408.08,82.45 406.58,78.57 404,76.3 C401.42,74.03 397.55,73.7 394.3,72.4 C391.05,71.1 387.75,69.63 384.5,68.5 C381.25,67.37 378.03,65.77 374.8,65.6 C371.57,65.43 368.33,67.98 365.1,67.5 C361.87,67.02 358.63,63.67 355.4,62.7 C352.17,61.73 348.93,61.38 345.7,61.7 C342.47,62.02 338.18,64.43 336,64.6 C333.82,64.77 334.15,63.63 332.6,62.7 C331.05,61.77 328.65,59.7 326.7,59 C324.75,58.3 322.82,58.17 320.9,58.5 C318.98,58.83 317.13,60.08 315.2,61 C313.27,61.92 310.92,63.28 309.3,64 C307.68,64.72 307.05,64.83 305.5,65.3 C303.95,65.77 301.58,66.1 300,66.8 C298.42,67.5 297.03,68.3 296,69.5 C294.97,70.7 294.35,71.54 293.8,74 C293.25,76.46 293.08,80.59 292.68,84.24 C292.28,87.89 291.77,92.23 291.39,95.89 C291.01,99.55 290.74,102.97 290.39,106.19 C290.04,109.41 289.69,111.18 289.29,115.18 C288.89,119.18 288.42,125.47 287.99,130.17 C287.56,134.87 287.16,139.19 286.69,143.4 C286.22,147.61 285.7,151.65 285.18,155.44 C284.66,159.23 284.18,163 283.57,166.14 C282.96,169.28 282.32,171.96 281.5,174.29 C280.68,176.62 279.88,178.5 278.63,180.1 C277.38,181.7 275.93,182.92 274,183.91 C272.07,184.9 269.47,185.36 267.08,186.03 C264.69,186.7 260.89,187.62 259.65,187.94 Z" fill="#B24745" fill-opacity="0.2"/>
<path d="M259.2,185.8 C259.98,185.22 262.53,183.65 263.9,182.3 C265.27,180.95 266.35,179.57 267.44,177.7 C268.53,175.83 269.59,173.53 270.43,171.1 C271.27,168.67 271.92,165.98 272.5,163.1 C273.08,160.22 273.45,157.12 273.9,153.8 C274.35,150.48 274.77,146.73 275.2,143.2 C275.63,139.67 276.14,136.18 276.5,132.6 C276.86,129.02 277.16,126.13 277.38,121.7 C277.6,117.27 277.55,110.98 277.82,106 C278.09,101.02 278.55,96.75 279,91.8 C279.45,86.85 280.03,80.77 280.5,76.3 C280.97,71.83 281.3,69.13 281.8,65 C282.3,60.87 282.92,55.67 283.5,51.5 C284.08,47.33 284.7,42.8 285.3,40 C285.9,37.2 286.37,36.17 287.1,34.7 C287.83,33.23 288.67,32.05 289.7,31.2 C290.73,30.35 291.97,29.93 293.3,29.6 C294.63,29.27 295.5,29.27 297.7,29.2 C299.9,29.13 303.57,29.13 306.5,29.2 C309.43,29.27 313.08,29.45 315.3,29.6 C317.52,29.75 318.32,29.95 319.8,30.1 C321.28,30.25 322.5,30.43 324.2,30.5 C325.9,30.57 328.03,30.58 330,30.5 C331.97,30.42 333.38,30.3 336,30 C338.62,29.7 342.47,28.85 345.7,28.7 C348.93,28.55 352.17,29.03 355.4,29.1 C358.63,29.17 361.87,29.17 365.1,29.1 C368.33,29.03 371.57,28.93 374.8,28.7 C378.03,28.47 381.25,27.93 384.5,27.7 C387.75,27.47 391.05,27.23 394.3,27.3 C397.55,27.37 400.67,27.97 404,28.1 C407.33,28.23 412.58,28.1 414.3,28.1" fill="none" stroke="#374E55" stroke-width="1.0" stroke-linejoin="round" stroke-linecap="butt"/>
<path d="M259.2,185.8 C260.22,185.22 263.62,183.55 265.3,182.3 C266.98,181.05 268.12,179.95 269.3,178.3 C270.48,176.65 271.44,174.72 272.36,172.4 C273.28,170.08 274.13,167.27 274.8,164.4 C275.47,161.53 275.9,158.5 276.4,155.2 C276.9,151.9 277.33,148.13 277.8,144.6 C278.27,141.07 278.84,137.82 279.2,134 C279.56,130.18 279.78,126.37 279.98,121.7 C280.18,117.03 280.13,110.98 280.42,106 C280.71,101.02 281.27,96.75 281.7,91.8 C282.13,86.85 282.55,80.77 283,76.3 C283.45,71.83 283.95,68.68 284.4,65 C284.85,61.32 285.18,57.63 285.7,54.2 C286.22,50.77 286.83,47.05 287.5,44.4 C288.17,41.75 288.88,39.92 289.7,38.3 C290.52,36.68 291.37,35.67 292.4,34.7 C293.43,33.73 294.58,32.97 295.9,32.5 C297.22,32.03 298.53,32.05 300.3,31.9 C302.07,31.75 304.28,31.6 306.5,31.6 C308.72,31.6 311.68,31.7 313.6,31.9 C315.52,32.1 316.53,32.48 318,32.8 C319.47,33.12 321.08,33.63 322.4,33.8 C323.72,33.97 324.63,33.87 325.9,33.8 C327.17,33.73 328.88,33.6 330,33.4 C331.12,33.2 331.6,32.77 332.6,32.6 C333.6,32.43 333.82,32.47 336,32.4 C338.18,32.33 342.47,32.08 345.7,32.2 C348.93,32.32 352.17,32.88 355.4,33.1 C358.63,33.32 361.87,33.5 365.1,33.5 C368.33,33.5 371.57,33.35 374.8,33.1 C378.03,32.85 381.25,32.18 384.5,32 C387.75,31.82 391.05,31.9 394.3,32 C397.55,32.1 400.67,32.42 404,32.6 C407.33,32.78 412.58,33.02 414.3,33.1" fill="none" stroke="#DF8F44" stroke-width="1.0" stroke-linejoin="round" stroke-linecap="butt"/>
<path d="M259.2,185.8 C260.43,185.33 264.48,184.02 266.6,183 C268.72,181.98 270.47,181.03 271.9,179.7 C273.33,178.37 274.32,176.88 275.2,175 C276.08,173.12 276.6,171.05 277.2,168.4 C277.8,165.75 278.3,162.42 278.8,159.1 C279.3,155.78 279.73,152.03 280.2,148.5 C280.67,144.97 281.18,141.38 281.6,137.9 C282.02,134.42 282.3,131.92 282.7,127.6 C283.1,123.28 283.52,117.97 284,112 C284.48,106.03 285.12,97.75 285.6,91.8 C286.08,85.85 286.58,80.77 286.9,76.3 C287.22,71.83 287.18,68.4 287.5,65 C287.82,61.6 288.35,58.88 288.8,55.9 C289.25,52.92 289.68,49.45 290.2,47.1 C290.72,44.75 291.25,43.13 291.9,41.8 C292.55,40.47 293.13,39.68 294.1,39.1 C295.07,38.52 296.37,38.52 297.7,38.3 C299.03,38.08 300.63,37.95 302.1,37.8 C303.57,37.65 304.88,37.55 306.5,37.4 C308.12,37.25 310.03,36.83 311.8,36.9 C313.57,36.97 315.48,37.35 317.1,37.8 C318.72,38.25 320.17,39.15 321.5,39.6 C322.83,40.05 324.07,40.47 325.1,40.5 C326.13,40.53 326.88,40.03 327.7,39.8 C328.52,39.57 328.62,39.33 330,39.1 C331.38,38.87 334.03,38.35 336,38.4 C337.97,38.45 339.53,39.47 341.8,39.4 C344.07,39.33 347.33,38 349.6,38 C351.87,38 352.82,38.78 355.4,39.4 C357.98,40.02 361.87,41.07 365.1,41.7 C368.33,42.33 371.57,42.95 374.8,43.2 C378.03,43.45 381.25,42.97 384.5,43.2 C387.75,43.43 391.38,44.43 394.3,44.6 C397.22,44.77 399.75,44.1 402,44.2 C404.25,44.3 405.75,44.72 407.8,45.2 C409.85,45.68 413.22,46.78 414.3,47.1" fill="none" stroke="#00A1D5" stroke-width="1.0" stroke-linejoin="round" stroke-linecap="butt"/>
<path d="M259.2,186.2 C260.43,185.88 264.27,184.95 266.6,184.3 C268.93,183.65 271.43,183.18 273.2,182.3 C274.97,181.42 276.1,180.43 277.2,179 C278.3,177.57 279.03,175.9 279.8,173.7 C280.57,171.5 281.2,168.88 281.8,165.8 C282.4,162.72 282.88,158.97 283.4,155.2 C283.92,151.43 284.43,147.4 284.9,143.2 C285.37,139 285.77,134.7 286.2,130 C286.63,125.3 287.1,119 287.5,115 C287.9,111 288.25,109.22 288.6,106 C288.95,102.78 289.22,99.37 289.6,95.7 C289.98,92.03 290.38,87.88 290.9,84 C291.42,80.12 291.8,75.57 292.7,72.4 C293.6,69.23 295.47,66.72 296.3,65 C297.13,63.28 297.03,63.1 297.7,62.1 C298.37,61.1 299.27,59.73 300.3,59 C301.33,58.27 302.72,58.13 303.9,57.7 C305.08,57.27 306.23,56.92 307.4,56.4 C308.57,55.88 309.58,55.27 310.9,54.6 C312.22,53.93 313.82,53.13 315.3,52.4 C316.78,51.67 318.47,50.72 319.8,50.2 C321.13,49.68 322.13,49.23 323.3,49.3 C324.47,49.37 325.68,49.93 326.8,50.6 C327.92,51.27 328.72,52.27 330,53.3 C331.28,54.33 333.33,56.05 334.5,56.8 C335.67,57.55 335.45,58.12 337,57.8 C338.55,57.48 341.7,55.65 343.8,54.9 C345.9,54.15 347.67,53.47 349.6,53.3 C351.53,53.13 352.82,52.98 355.4,53.9 C357.98,54.82 361.87,57.98 365.1,58.8 C368.33,59.62 372.2,58.8 374.8,58.8 C377.4,58.8 378.43,58.32 380.7,58.8 C382.97,59.28 385.82,60.42 388.4,61.7 C390.98,62.98 393.6,65.75 396.2,66.5 C398.8,67.25 401.9,65.55 404,66.2 C406.1,66.85 407.08,67.92 408.8,70.4 C410.52,72.88 413.38,79.32 414.3,81.1" fill="none" stroke="#B24745" stroke-width="1.0" stroke-linejoin="round" stroke-linecap="butt"/>
</g>
<rect x="251.5" y="18.5" width="170.2" height="175.8" fill="none" stroke="#d6d6d6" stroke-width="1"/>
<line x1="249.1" y1="186.4" x2="251.5" y2="186.4" stroke="#c8c8c8" stroke-width="0.8"/><line x1="249.1" y1="154.42" x2="251.5" y2="154.42" stroke="#c8c8c8" stroke-width="0.8"/><line x1="249.1" y1="122.44" x2="251.5" y2="122.44" stroke="#c8c8c8" stroke-width="0.8"/><line x1="249.1" y1="90.46" x2="251.5" y2="90.46" stroke="#c8c8c8" stroke-width="0.8"/><line x1="249.1" y1="58.48" x2="251.5" y2="58.48" stroke="#c8c8c8" stroke-width="0.8"/><line x1="249.1" y1="26.5" x2="251.5" y2="26.5" stroke="#c8c8c8" stroke-width="0.8"/><line x1="258.65" y1="194.3" x2="258.65" y2="196.7" stroke="#c8c8c8" stroke-width="0.8"/><line x1="275.16" y1="194.3" x2="275.16" y2="196.7" stroke="#c8c8c8" stroke-width="0.8"/><line x1="291.66" y1="194.3" x2="291.66" y2="196.7" stroke="#c8c8c8" stroke-width="0.8"/><line x1="308.17" y1="194.3" x2="308.17" y2="196.7" stroke="#c8c8c8" stroke-width="0.8"/><line x1="324.67" y1="194.3" x2="324.67" y2="196.7" stroke="#c8c8c8" stroke-width="0.8"/><line x1="341.18" y1="194.3" x2="341.18" y2="196.7" stroke="#c8c8c8" stroke-width="0.8"/><line x1="357.69" y1="194.3" x2="357.69" y2="196.7" stroke="#c8c8c8" stroke-width="0.8"/><line x1="374.19" y1="194.3" x2="374.19" y2="196.7" stroke="#c8c8c8" stroke-width="0.8"/><line x1="390.7" y1="194.3" x2="390.7" y2="196.7" stroke="#c8c8c8" stroke-width="0.8"/><line x1="407.2" y1="194.3" x2="407.2" y2="196.7" stroke="#c8c8c8" stroke-width="0.8"/>
<text transform="translate(244.6,189.1) scale(1,1.1)" font-size="8.73" text-anchor="end" font-weight="normal" fill="#1a1a1a">0</text>
<text transform="translate(244.6,157.12) scale(1,1.1)" font-size="8.73" text-anchor="end" font-weight="normal" fill="#1a1a1a">0.2</text>
<text transform="translate(244.6,125.14) scale(1,1.1)" font-size="8.73" text-anchor="end" font-weight="normal" fill="#1a1a1a">0.4</text>
<text transform="translate(244.6,93.16) scale(1,1.1)" font-size="8.73" text-anchor="end" font-weight="normal" fill="#1a1a1a">0.6</text>
<text transform="translate(244.6,61.18) scale(1,1.1)" font-size="8.73" text-anchor="end" font-weight="normal" fill="#1a1a1a">0.8</text>
<text transform="translate(244.6,29.2) scale(1,1.1)" font-size="8.73" text-anchor="end" font-weight="normal" fill="#1a1a1a">1</text>
<text transform="translate(258.65,205.6) scale(1,1.1)" font-size="8.73" text-anchor="middle" font-weight="normal" fill="#1a1a1a">0</text>
<text transform="translate(275.16,205.6) scale(1,1.1)" font-size="8.73" text-anchor="middle" font-weight="normal" fill="#1a1a1a">7</text>
<text transform="translate(291.66,205.6) scale(1,1.1)" font-size="8.73" text-anchor="middle" font-weight="normal" fill="#1a1a1a">14</text>
<text transform="translate(308.17,205.6) scale(1,1.1)" font-size="8.73" text-anchor="middle" font-weight="normal" fill="#1a1a1a">21</text>
<text transform="translate(324.67,205.6) scale(1,1.1)" font-size="8.73" text-anchor="middle" font-weight="normal" fill="#1a1a1a">28</text>
<text transform="translate(341.18,205.6) scale(1,1.1)" font-size="8.73" text-anchor="middle" font-weight="normal" fill="#1a1a1a">35</text>
<text transform="translate(357.69,205.6) scale(1,1.1)" font-size="8.73" text-anchor="middle" font-weight="normal" fill="#1a1a1a">42</text>
<text transform="translate(374.19,205.6) scale(1,1.1)" font-size="8.73" text-anchor="middle" font-weight="normal" fill="#1a1a1a">49</text>
<text transform="translate(390.7,205.6) scale(1,1.1)" font-size="8.73" text-anchor="middle" font-weight="normal" fill="#1a1a1a">56</text>
<text transform="translate(407.2,205.6) scale(1,1.1)" font-size="8.73" text-anchor="middle" font-weight="normal" fill="#1a1a1a">63</text>
<text transform="translate(246.8,12.4) scale(1,1.1)" font-size="8.73" text-anchor="start" font-weight="normal" fill="#1a1a1a">No prior infection, one dose BNT162b2</text>
<text transform="translate(336.6,219) scale(1,1.1)" font-size="8.73" text-anchor="middle" font-weight="normal" fill="#1a1a1a">Time from first vaccination (days)</text>
<text transform="translate(223.2,106.4) rotate(-90)" font-size="8.77" text-anchor="middle" fill="#1a1a1a">Predicted probability of anti-spike IgG positivity</text>
<text transform="translate(215.8,7.9) scale(1,1.1)" font-size="10" text-anchor="start" font-weight="bold" fill="#000">b</text>
<clipPath id="clipc"><rect x="469.1" y="18.5" width="170.5" height="175.8"/></clipPath>
<line x1="469.1" y1="170.41" x2="639.6" y2="170.41" stroke="#f0f0f0" stroke-width="0.8"/><line x1="469.1" y1="138.43" x2="639.6" y2="138.43" stroke="#f0f0f0" stroke-width="0.8"/><line x1="469.1" y1="106.45" x2="639.6" y2="106.45" stroke="#f0f0f0" stroke-width="0.8"/><line x1="469.1" y1="74.47" x2="639.6" y2="74.47" stroke="#f0f0f0" stroke-width="0.8"/><line x1="469.1" y1="42.49" x2="639.6" y2="42.49" stroke="#f0f0f0" stroke-width="0.8"/><line x1="482.61" y1="18.5" x2="482.61" y2="194.3" stroke="#f0f0f0" stroke-width="0.8"/><line x1="494.83" y1="18.5" x2="494.83" y2="194.3" stroke="#f0f0f0" stroke-width="0.8"/><line x1="507.06" y1="18.5" x2="507.06" y2="194.3" stroke="#f0f0f0" stroke-width="0.8"/><line x1="519.28" y1="18.5" x2="519.28" y2="194.3" stroke="#f0f0f0" stroke-width="0.8"/><line x1="531.5" y1="18.5" x2="531.5" y2="194.3" stroke="#f0f0f0" stroke-width="0.8"/><line x1="543.72" y1="18.5" x2="543.72" y2="194.3" stroke="#f0f0f0" stroke-width="0.8"/><line x1="555.94" y1="18.5" x2="555.94" y2="194.3" stroke="#f0f0f0" stroke-width="0.8"/><line x1="568.16" y1="18.5" x2="568.16" y2="194.3" stroke="#f0f0f0" stroke-width="0.8"/><line x1="580.39" y1="18.5" x2="580.39" y2="194.3" stroke="#f0f0f0" stroke-width="0.8"/><line x1="592.61" y1="18.5" x2="592.61" y2="194.3" stroke="#f0f0f0" stroke-width="0.8"/><line x1="604.83" y1="18.5" x2="604.83" y2="194.3" stroke="#f0f0f0" stroke-width="0.8"/><line x1="617.05" y1="18.5" x2="617.05" y2="194.3" stroke="#f0f0f0" stroke-width="0.8"/><line x1="629.27" y1="18.5" x2="629.27" y2="194.3" stroke="#f0f0f0" stroke-width="0.8"/><line x1="469.1" y1="186.4" x2="639.6" y2="186.4" stroke="#ebebeb" stroke-width="1"/><line x1="469.1" y1="154.42" x2="639.6" y2="154.42" stroke="#ebebeb" stroke-width="1"/><line x1="469.1" y1="122.44" x2="639.6" y2="122.44" stroke="#ebebeb" stroke-width="1"/><line x1="469.1" y1="90.46" x2="639.6" y2="90.46" stroke="#ebebeb" stroke-width="1"/><line x1="469.1" y1="58.48" x2="639.6" y2="58.48" stroke="#ebebeb" stroke-width="1"/><line x1="469.1" y1="26.5" x2="639.6" y2="26.5" stroke="#ebebeb" stroke-width="1"/><line x1="476.5" y1="18.5" x2="476.5" y2="194.3" stroke="#ebebeb" stroke-width="1"/><line x1="488.72" y1="18.5" x2="488.72" y2="194.3" stroke="#ebebeb" stroke-width="1"/><line x1="500.94" y1="18.5" x2="500.94" y2="194.3" stroke="#ebebeb" stroke-width="1"/><line x1="513.17" y1="18.5" x2="513.17" y2="194.3" stroke="#ebebeb" stroke-width="1"/><line x1="525.39" y1="18.5" x2="525.39" y2="194.3" stroke="#ebebeb" stroke-width="1"/><line x1="537.61" y1="18.5" x2="537.61" y2="194.3" stroke="#ebebeb" stroke-width="1"/><line x1="549.83" y1="18.5" x2="549.83" y2="194.3" stroke="#ebebeb" stroke-width="1"/><line x1="562.05" y1="18.5" x2="562.05" y2="194.3" stroke="#ebebeb" stroke-width="1"/><line x1="574.28" y1="18.5" x2="574.28" y2="194.3" stroke="#ebebeb" stroke-width="1"/><line x1="586.5" y1="18.5" x2="586.5" y2="194.3" stroke="#ebebeb" stroke-width="1"/><line x1="598.72" y1="18.5" x2="598.72" y2="194.3" stroke="#ebebeb" stroke-width="1"/><line x1="610.94" y1="18.5" x2="610.94" y2="194.3" stroke="#ebebeb" stroke-width="1"/><line x1="623.16" y1="18.5" x2="623.16" y2="194.3" stroke="#ebebeb" stroke-width="1"/><line x1="635.39" y1="18.5" x2="635.39" y2="194.3" stroke="#ebebeb" stroke-width="1"/>
<g clip-path="url(#clipc)">
<path d="M476.3,176.5 C476.38,175.95 476.63,174.52 476.8,173.2 C476.97,171.88 477.07,170.62 477.3,168.6 C477.53,166.58 477.9,163.43 478.2,161.1 C478.5,158.77 478.82,156.45 479.1,154.6 C479.38,152.75 479.57,152.2 479.9,150 C480.23,147.8 480.57,145.47 481.1,141.4 C481.63,137.33 482.67,131.5 483.1,125.6 C483.53,119.7 483.15,112.93 483.7,106 C484.25,99.07 485.68,89.93 486.4,84 C487.12,78.07 487.4,75.32 488,70.4 C488.6,65.48 489.35,58.92 490,54.5 C490.65,50.08 491.13,47 491.9,43.9 C492.67,40.8 493.6,38 494.6,35.9 C495.6,33.8 496.58,32.45 497.9,31.3 C499.22,30.15 500.4,29.52 502.5,29 C504.6,28.48 507.85,28.33 510.5,28.2 C513.15,28.07 515.15,28.13 518.4,28.2 C521.65,28.27 525.57,28.5 530,28.6 C534.43,28.7 540,28.73 545,28.8 C550,28.87 555.43,29.02 560,29 C564.57,28.98 567.1,28.65 572.4,28.7 C577.7,28.75 585.32,29.47 591.8,29.3 C598.28,29.13 604.67,28.28 611.3,27.7 C617.93,27.12 628.22,26.12 631.6,25.8 L631.6,86.9 C631.28,85.13 630.5,79.7 629.7,76.3 C628.9,72.9 627.93,70.07 626.8,66.5 C625.67,62.93 624.87,56.98 622.9,54.9 C620.93,52.82 617.58,54.17 615,54 C612.42,53.83 609.9,53.82 607.4,53.9 C604.9,53.98 602.07,54.2 600,54.5 C597.93,54.8 596.6,55.25 595,55.7 C593.4,56.15 591.85,56.85 590.4,57.2 C588.95,57.55 587.83,58.05 586.3,57.8 C584.77,57.55 582.9,56.57 581.2,55.7 C579.5,54.83 577.8,53.7 576.1,52.6 C574.4,51.5 572.68,50.03 571,49.1 C569.32,48.17 568.17,47.6 566,47 C563.83,46.4 560.5,45.58 558,45.5 C555.5,45.42 552.75,46.08 551,46.5 C549.25,46.92 548.77,47.07 547.5,48 C546.23,48.93 544.77,51.15 543.4,52.1 C542.03,53.05 540.67,53.62 539.3,53.7 C537.93,53.78 536.57,53.28 535.2,52.6 C533.83,51.92 532.8,51.3 531.1,49.6 C529.4,47.9 527.18,43.67 525,42.4 C522.82,41.13 520.17,41.9 518,42 C515.83,42.1 514,42.33 512,43 C510,43.67 507.67,44.5 506,46 C504.33,47.5 503.17,49.33 502,52 C500.83,54.67 499.92,58 499,62 C498.08,66 497.28,71 496.5,76 C495.72,81 494.97,86.33 494.3,92 C493.63,97.67 492.91,104.33 492.49,110 C492.07,115.67 492.2,120.67 491.8,126 C491.4,131.33 491.43,137.85 490.1,142 C488.78,146.15 485,148.59 483.85,150.89 C482.7,153.19 483.44,154.08 483.18,155.82 C482.92,157.56 482.58,159.48 482.28,161.34 C481.98,163.2 481.69,165.25 481.37,166.97 C481.05,168.69 480.73,170.25 480.35,171.68 C479.97,173.11 479.56,174.32 479.11,175.52 C478.67,176.72 477.92,178.33 477.68,178.89 Z" fill="#374E55" fill-opacity="0.2"/>
<path d="M475.1,182 C475.49,181.49 476.75,180.01 477.42,178.92 C478.09,177.83 478.6,176.8 479.1,175.47 C479.61,174.14 480.03,172.59 480.45,170.93 C480.87,169.27 481.25,167.34 481.63,165.5 C482.01,163.66 482.38,161.78 482.73,159.92 C483.08,158.06 483.44,155.95 483.72,154.34 C484,152.73 484.14,153.14 484.42,150.26 C484.7,147.38 484.95,141.89 485.42,137.08 C485.89,132.27 486.84,126.62 487.26,121.39 C487.68,116.16 487.34,111.97 487.92,105.68 C488.5,99.39 489.92,89.59 490.72,83.65 C491.52,77.71 492.08,74.31 492.73,70.01 C493.38,65.72 493.87,61.72 494.65,57.88 C495.43,54.04 496.38,50.09 497.44,46.97 C498.5,43.85 499.59,41.34 501.02,39.18 C502.45,37.02 504.17,35.2 506,34 C507.83,32.8 509.67,32.5 512,32 C514.33,31.5 517,31.17 520,31 C523,30.83 525,31 530,31 C535,31 542.5,30.92 550,31 C557.5,31.08 566.67,31.5 575,31.5 C583.33,31.5 593.33,31.33 600,31 C606.67,30.67 609.73,30.17 615,29.5 C620.27,28.83 628.83,27.42 631.6,27 L631.6,48 C629.67,47.5 624.1,45.75 620,45 C615.9,44.25 611.17,43.75 607,43.5 C602.83,43.25 598.45,43.6 595,43.5 C591.55,43.4 589.45,43.17 586.3,42.9 C583.15,42.63 579.5,41.98 576.1,41.9 C572.7,41.82 569.32,42.13 565.9,42.4 C562.48,42.67 559.02,43.15 555.6,43.5 C552.18,43.85 548.8,44.42 545.4,44.5 C542,44.58 538.6,44.35 535.2,44 C531.8,43.65 527.53,42.73 525,42.4 C522.47,42.07 522.17,42.23 520,42 C517.83,41.77 514.42,41 512,41 C509.58,41 507.14,40.74 505.5,42 C503.86,43.26 503.16,45.76 502.17,48.57 C501.18,51.38 500.3,55.18 499.55,58.88 C498.8,62.58 498.31,66.52 497.67,70.76 C497.03,75 496.48,78.4 495.68,84.32 C494.88,90.24 493.45,100.02 492.88,106.3 C492.31,112.58 492.7,116.76 492.28,121.99 C491.86,127.22 491.2,132.9 490.38,137.69 C489.56,142.48 488,147.88 487.38,150.74 C486.76,153.6 486.97,153.24 486.68,154.86 C486.39,156.48 486.02,158.61 485.67,160.48 C485.32,162.35 484.96,164.23 484.57,166.1 C484.18,167.97 483.8,169.93 483.35,171.67 C482.91,173.41 482.46,175.06 481.9,176.53 C481.34,178 480.71,179.27 479.98,180.48 C479.25,181.69 477.91,183.25 477.5,183.8 Z" fill="#DF8F44" fill-opacity="0.2"/>
<path d="M475.31,183.84 C475.76,183.49 477.12,182.59 477.99,181.75 C478.87,180.91 479.77,180.05 480.56,178.83 C481.35,177.61 482.09,176.06 482.71,174.43 C483.33,172.81 483.77,170.9 484.26,169.08 C484.75,167.27 485.21,165.39 485.64,163.54 C486.07,161.69 486.45,159.83 486.83,157.98 C487.21,156.13 487.66,153.75 487.94,152.46 C488.22,151.18 488.36,151.84 488.52,150.27 C488.68,148.7 488.52,146.85 488.92,143.03 C489.32,139.21 490.43,132.58 490.92,127.35 C491.41,122.12 491.53,115.92 491.86,111.64 C492.19,107.36 492.46,105.02 492.92,101.69 C493.38,98.36 494.1,94.65 494.63,91.65 C495.16,88.65 495.57,87.3 496.12,83.7 C496.67,80.11 497.19,74.59 497.93,70.08 C498.67,65.57 499.65,60.48 500.55,56.64 C501.45,52.8 501.78,50.15 503.35,47.04 C504.93,43.93 507.73,39.76 510,38 C512.27,36.24 514.5,37 517,36.5 C519.5,36 522.33,35.5 525,35 C527.67,34.5 530.33,33.67 533,33.5 C535.67,33.33 538.17,33.67 541,34 C543.83,34.33 546.83,35.25 550,35.5 C553.17,35.75 556.67,35.83 560,35.5 C563.33,35.17 566.67,34.33 570,33.5 C573.33,32.67 576.67,31 580,30.5 C583.33,30 586.67,30.33 590,30.5 C593.33,30.67 595.83,31.5 600,31.5 C604.17,31.5 609.73,31.33 615,30.5 C620.27,29.67 628.83,27.17 631.6,26.5 L631.6,33.5 C629.67,34 624.1,35.67 620,36.5 C615.9,37.33 611.17,38.17 607,38.5 C602.83,38.83 598.67,38.58 595,38.5 C591.33,38.42 588.33,37.83 585,38 C581.67,38.17 578.33,38.83 575,39.5 C571.67,40.17 568.33,41.5 565,42 C561.67,42.5 558.33,42.5 555,42.5 C551.67,42.5 548,42.25 545,42 C542,41.75 539.5,41.17 537,41 C534.5,40.83 531.77,40.83 530,41 C528.23,41.17 527.88,41.42 526.4,42 C524.92,42.58 522.87,43.83 521.1,44.5 C519.33,45.17 517.48,45.25 515.8,46 C514.12,46.75 512.38,47.58 511,49 C509.62,50.42 508.5,53.05 507.5,54.5 C506.5,55.95 505.87,54.97 505.03,57.69 C504.19,60.41 503.2,66.37 502.47,70.82 C501.74,75.27 501.22,80.78 500.67,84.39 C500.12,88 499.69,89.46 499.16,92.46 C498.63,95.46 497.92,99.11 497.47,102.4 C497.02,105.7 496.8,107.98 496.47,112.23 C496.14,116.48 495.98,122.68 495.48,127.92 C494.98,133.16 494.11,139.85 493.48,143.65 C492.85,147.45 492.08,149.15 491.68,150.73 C491.28,152.31 491.35,151.82 491.06,153.14 C490.77,154.45 490.35,156.77 489.97,158.62 C489.59,160.47 489.2,162.38 488.76,164.26 C488.32,166.14 487.85,168.03 487.34,169.92 C486.83,171.8 486.37,173.79 485.69,175.57 C485.01,177.34 484.15,179.16 483.24,180.57 C482.33,181.98 481.2,183.09 480.21,184.05 C479.22,185.02 477.78,185.98 477.29,186.36 Z" fill="#00A1D5" fill-opacity="0.2"/>
<path d="M475.97,184.23 C476.56,184.12 478.38,183.98 479.51,183.6 C480.64,183.22 481.81,182.62 482.75,181.94 C483.69,181.26 484.45,180.49 485.15,179.53 C485.85,178.57 486.39,177.46 486.96,176.17 C487.53,174.88 488.08,173.43 488.58,171.78 C489.08,170.13 489.52,168.13 489.95,166.29 C490.38,164.45 490.76,162.57 491.14,160.73 C491.52,158.89 491.9,157 492.23,155.27 C492.56,153.54 492.86,153.01 493.11,150.33 C493.36,147.65 493.28,143.64 493.71,139.17 C494.14,134.69 495.08,128.71 495.71,123.48 C496.34,118.25 496.99,112.41 497.51,107.8 C498.03,103.19 498.41,99.78 498.81,95.81 C499.21,91.84 499.38,88.23 499.9,84 C500.41,79.77 501.23,74.43 501.9,70.4 C502.57,66.37 503.02,62.9 503.9,59.8 C504.78,56.7 505.88,53.9 507.2,51.8 C508.52,49.7 510.15,48.3 511.8,47.2 C513.45,46.1 515.33,45.98 517.1,45.2 C518.87,44.42 520.85,43.5 522.4,42.5 C523.95,41.5 525.13,40.42 526.4,39.2 C527.67,37.98 528.57,36.32 530,35.2 C531.43,34.08 533.17,32.78 535,32.5 C536.83,32.22 538.5,32.83 541,33.5 C543.5,34.17 547.17,35.83 550,36.5 C552.83,37.17 555.33,37.67 558,37.5 C560.67,37.33 563.33,36.67 566,35.5 C568.67,34.33 571.33,31.67 574,30.5 C576.67,29.33 579,28.75 582,28.5 C585,28.25 589,28.67 592,29 C595,29.33 596.17,30.42 600,30.5 C603.83,30.58 609.73,30.33 615,29.5 C620.27,28.67 628.83,26.17 631.6,25.5 L631.6,36.4 C628.22,36.9 618.23,38.9 611.3,39.4 C604.37,39.9 595.83,39.4 590,39.4 C584.17,39.4 579.47,38.72 576.3,39.4 C573.13,40.08 572.73,42.32 571,43.5 C569.27,44.68 567.6,45.48 565.9,46.5 C564.2,47.52 562.52,48.92 560.8,49.6 C559.08,50.28 557.32,50.6 555.6,50.6 C553.88,50.6 552.2,50.28 550.5,49.6 C548.8,48.92 547.1,47.52 545.4,46.5 C543.7,45.48 542,44.18 540.3,43.5 C538.6,42.82 536.9,42.07 535.2,42.4 C533.5,42.73 531.55,44.15 530.1,45.5 C528.65,46.85 527.57,49 526.5,50.5 C525.43,52 524.82,53.18 523.7,54.5 C522.58,55.82 521.12,57.3 519.8,58.4 C518.48,59.5 517.13,60.22 515.8,61.1 C514.47,61.98 513.02,62.15 511.8,63.7 C510.58,65.25 509.6,67.02 508.5,70.4 C507.4,73.78 506.22,79.7 505.2,84 C504.18,88.3 503.07,92.16 502.39,96.19 C501.7,100.22 501.61,103.58 501.09,108.2 C500.57,112.82 499.92,118.68 499.29,123.92 C498.66,129.16 497.72,135.17 497.29,139.63 C496.86,144.09 496.94,147.95 496.69,150.67 C496.44,153.39 496.11,154.13 495.77,155.93 C495.43,157.73 495.05,159.61 494.66,161.47 C494.27,163.33 493.89,165.22 493.45,167.11 C493.01,169 492.55,171.07 492.02,172.82 C491.49,174.57 490.9,176.16 490.24,177.63 C489.58,179.1 488.95,180.46 488.05,181.67 C487.15,182.88 486.08,183.97 484.85,184.86 C483.62,185.75 482.06,186.51 480.69,187 C479.32,187.49 477.31,187.64 476.63,187.77 Z" fill="#B24745" fill-opacity="0.2"/>
<path d="M476.3,178.3 C476.53,177.75 477.27,176.17 477.7,175 C478.13,173.83 478.53,172.68 478.9,171.3 C479.27,169.92 479.58,168.4 479.9,166.7 C480.22,165 480.5,162.95 480.8,161.1 C481.1,159.25 481.43,157.37 481.7,155.6 C481.97,153.83 481.85,153.85 482.4,150.5 C482.95,147.15 484.31,140.3 485,135.5 C485.69,130.7 486.2,126.62 486.57,121.7 C486.94,116.78 486.75,112.28 487.2,106 C487.65,99.72 488.62,89.93 489.3,84 C489.98,78.07 490.63,74.88 491.3,70.4 C491.97,65.92 492.63,61.08 493.3,57.1 C493.97,53.12 494.53,49.58 495.3,46.5 C496.07,43.42 496.92,40.8 497.9,38.6 C498.88,36.4 499.98,34.63 501.2,33.3 C502.42,31.97 503.65,31.22 505.2,30.6 C506.75,29.98 508.73,29.77 510.5,29.6 C512.27,29.43 514.03,29.43 515.8,29.6 C517.57,29.77 519.57,30.33 521.1,30.6 C522.63,30.87 523.67,30.77 525,31.2 C526.33,31.63 527.73,32.55 529.1,33.2 C530.47,33.85 531.83,34.58 533.2,35.1 C534.57,35.62 535.95,36.1 537.3,36.3 C538.65,36.5 539.95,36.47 541.3,36.3 C542.65,36.13 544.03,35.67 545.4,35.3 C546.77,34.93 548.13,34.42 549.5,34.1 C550.87,33.78 552.23,33.52 553.6,33.4 C554.97,33.28 556.33,33.38 557.7,33.4 C559.07,33.42 560.43,33.38 561.8,33.5 C563.17,33.62 564.55,33.88 565.9,34.1 C567.25,34.32 568.55,34.55 569.9,34.8 C571.25,35.05 572.63,35.27 574,35.6 C575.37,35.93 576.73,36.43 578.1,36.8 C579.47,37.17 580.83,37.55 582.2,37.8 C583.57,38.05 584.93,38.3 586.3,38.3 C587.67,38.3 588.95,38 590.4,37.8 C591.85,37.6 593.47,37.55 595,37.1 C596.53,36.65 597.53,35.7 599.6,35.1 C601.67,34.5 604.82,34.02 607.4,33.5 C609.98,32.98 612.52,32.58 615.1,32 C617.68,31.42 620.15,30.72 622.9,30 C625.65,29.28 630.15,28.08 631.6,27.7" fill="none" stroke="#374E55" stroke-width="1.0" stroke-linejoin="round" stroke-linecap="butt"/>
<path d="M476.3,182.9 C476.7,182.37 478,180.85 478.7,179.7 C479.4,178.55 479.97,177.4 480.5,176 C481.03,174.6 481.47,173 481.9,171.3 C482.33,169.6 482.72,167.65 483.1,165.8 C483.48,163.95 483.85,162.07 484.2,160.2 C484.55,158.33 484.92,156.22 485.2,154.6 C485.48,152.98 485.43,153.37 485.9,150.5 C486.37,147.63 487.34,142.2 488,137.4 C488.66,132.6 489.45,126.93 489.87,121.7 C490.29,116.47 489.93,112.28 490.5,106 C491.07,99.72 492.5,89.93 493.3,84 C494.1,78.07 494.65,74.67 495.3,70.4 C495.95,66.13 496.43,62.17 497.2,58.4 C497.97,54.63 498.9,50.77 499.9,47.8 C500.9,44.83 501.98,42.47 503.2,40.6 C504.42,38.73 505.77,37.6 507.2,36.6 C508.63,35.6 510.15,35.05 511.8,34.6 C513.45,34.15 515.33,34 517.1,33.9 C518.87,33.8 521.08,33.95 522.4,34 C523.72,34.05 523.73,34.03 525,34.2 C526.27,34.37 528.3,34.8 530,35 C531.7,35.2 533.48,35.27 535.2,35.4 C536.92,35.53 538.6,35.82 540.3,35.8 C542,35.78 543.7,35.47 545.4,35.3 C547.1,35.13 548.8,34.93 550.5,34.8 C552.2,34.67 553.88,34.55 555.6,34.5 C557.32,34.45 559.08,34.45 560.8,34.5 C562.52,34.55 564.2,34.7 565.9,34.8 C567.6,34.9 569.3,35.05 571,35.1 C572.7,35.15 574.4,35.15 576.1,35.1 C577.8,35.05 579.5,34.8 581.2,34.8 C582.9,34.8 584,35.02 586.3,35.1 C588.6,35.18 592.78,35.3 595,35.3 C597.22,35.3 597.53,35.4 599.6,35.1 C601.67,34.8 604.82,34.02 607.4,33.5 C609.98,32.98 612.52,32.58 615.1,32 C617.68,31.42 620.15,30.65 622.9,30 C625.65,29.35 630.15,28.42 631.6,28.1" fill="none" stroke="#DF8F44" stroke-width="1.0" stroke-linejoin="round" stroke-linecap="butt"/>
<path d="M476.3,185.1 C476.77,184.73 478.17,183.8 479.1,182.9 C480.03,182 481.05,181.02 481.9,179.7 C482.75,178.38 483.55,176.7 484.2,175 C484.85,173.3 485.3,171.35 485.8,169.5 C486.3,167.65 486.77,165.77 487.2,163.9 C487.63,162.03 488.02,160.15 488.4,158.3 C488.78,156.45 489.22,154.1 489.5,152.8 C489.78,151.5 489.87,152.08 490.1,150.5 C490.33,148.92 490.43,147.12 490.9,143.3 C491.37,139.48 492.41,132.83 492.9,127.6 C493.39,122.37 493.53,116.17 493.86,111.9 C494.19,107.63 494.44,105.32 494.9,102 C495.36,98.68 496.07,95 496.6,92 C497.13,89 497.55,87.6 498.1,84 C498.65,80.4 499.17,74.88 499.9,70.4 C500.63,65.92 501.62,60.87 502.5,57.1 C503.38,53.33 504.2,50.23 505.2,47.8 C506.2,45.37 507.28,43.77 508.5,42.5 C509.72,41.23 511.07,40.75 512.5,40.2 C513.93,39.65 515.45,39.47 517.1,39.2 C518.75,38.93 521.08,38.83 522.4,38.6 C523.72,38.37 523.88,38.1 525,37.8 C526.12,37.5 527.73,37.13 529.1,36.8 C530.47,36.47 531.83,35.97 533.2,35.8 C534.57,35.63 535.95,35.67 537.3,35.8 C538.65,35.93 539.95,36.32 541.3,36.6 C542.65,36.88 543.87,37.25 545.4,37.5 C546.93,37.75 548.8,37.97 550.5,38.1 C552.2,38.23 553.88,38.35 555.6,38.3 C557.32,38.25 559.08,38 560.8,37.8 C562.52,37.6 564.2,37.43 565.9,37.1 C567.6,36.77 569.3,36.45 571,35.8 C572.7,35.15 574.4,33.8 576.1,33.2 C577.8,32.6 579.5,32.37 581.2,32.2 C582.9,32.03 584.6,32.12 586.3,32.2 C588,32.28 589.95,32.57 591.4,32.7 C592.85,32.83 593.63,32.87 595,33 C596.37,33.13 597.53,33.42 599.6,33.5 C601.67,33.58 604.82,33.72 607.4,33.5 C609.98,33.28 612.52,32.75 615.1,32.2 C617.68,31.65 620.15,30.85 622.9,30.2 C625.65,29.55 630.15,28.62 631.6,28.3" fill="none" stroke="#00A1D5" stroke-width="1.0" stroke-linejoin="round" stroke-linecap="butt"/>
<path d="M476.3,186 C476.93,185.88 478.85,185.73 480.1,185.3 C481.35,184.87 482.72,184.18 483.8,183.4 C484.88,182.62 485.8,181.68 486.6,180.6 C487.4,179.52 487.98,178.28 488.6,176.9 C489.22,175.52 489.78,174 490.3,172.3 C490.82,170.6 491.27,168.57 491.7,166.7 C492.13,164.83 492.52,162.95 492.9,161.1 C493.28,159.25 493.67,157.37 494,155.6 C494.33,153.83 494.65,153.2 494.9,150.5 C495.15,147.8 495.07,143.87 495.5,139.4 C495.93,134.93 496.87,128.93 497.5,123.7 C498.13,118.47 498.78,112.62 499.3,108 C499.82,103.38 500.17,100 500.6,96 C501.03,92 501.35,88.27 501.9,84 C502.45,79.73 503.13,74.22 503.9,70.4 C504.67,66.58 505.52,63.75 506.5,61.1 C507.48,58.45 508.58,56.15 509.8,54.5 C511.02,52.85 512.47,51.98 513.8,51.2 C515.13,50.42 516.58,50.37 517.8,49.8 C519.02,49.23 519.88,48.68 521.1,47.8 C522.32,46.92 523.93,45.82 525.1,44.5 C526.27,43.18 527.1,41.18 528.1,39.9 C529.1,38.62 530.08,37.57 531.1,36.8 C532.12,36.03 533.17,35.55 534.2,35.3 C535.23,35.05 536.12,35.05 537.3,35.3 C538.48,35.55 539.95,36.2 541.3,36.8 C542.65,37.4 544.03,38.27 545.4,38.9 C546.77,39.53 548.13,40.18 549.5,40.6 C550.87,41.02 552.23,41.3 553.6,41.4 C554.97,41.5 556.33,41.37 557.7,41.2 C559.07,41.03 560.43,40.78 561.8,40.4 C563.17,40.02 564.55,39.58 565.9,38.9 C567.25,38.22 568.55,37.25 569.9,36.3 C571.25,35.35 572.63,34.02 574,33.2 C575.37,32.38 576.73,31.82 578.1,31.4 C579.47,30.98 580.83,30.77 582.2,30.7 C583.57,30.63 584.93,30.83 586.3,31 C587.67,31.17 588.95,31.5 590.4,31.7 C591.85,31.9 593.47,31.93 595,32.2 C596.53,32.47 597.53,33.12 599.6,33.3 C601.67,33.48 604.82,33.55 607.4,33.3 C609.98,33.05 612.52,32.38 615.1,31.8 C617.68,31.22 620.15,30.52 622.9,29.8 C625.65,29.08 630.15,27.88 631.6,27.5" fill="none" stroke="#B24745" stroke-width="1.0" stroke-linejoin="round" stroke-linecap="butt"/>
</g>
<rect x="469.1" y="18.5" width="170.5" height="175.8" fill="none" stroke="#d6d6d6" stroke-width="1"/>
<line x1="466.7" y1="186.4" x2="469.1" y2="186.4" stroke="#c8c8c8" stroke-width="0.8"/><line x1="466.7" y1="154.42" x2="469.1" y2="154.42" stroke="#c8c8c8" stroke-width="0.8"/><line x1="466.7" y1="122.44" x2="469.1" y2="122.44" stroke="#c8c8c8" stroke-width="0.8"/><line x1="466.7" y1="90.46" x2="469.1" y2="90.46" stroke="#c8c8c8" stroke-width="0.8"/><line x1="466.7" y1="58.48" x2="469.1" y2="58.48" stroke="#c8c8c8" stroke-width="0.8"/><line x1="466.7" y1="26.5" x2="469.1" y2="26.5" stroke="#c8c8c8" stroke-width="0.8"/><line x1="476.5" y1="194.3" x2="476.5" y2="196.7" stroke="#c8c8c8" stroke-width="0.8"/><line x1="488.72" y1="194.3" x2="488.72" y2="196.7" stroke="#c8c8c8" stroke-width="0.8"/><line x1="500.94" y1="194.3" x2="500.94" y2="196.7" stroke="#c8c8c8" stroke-width="0.8"/><line x1="513.17" y1="194.3" x2="513.17" y2="196.7" stroke="#c8c8c8" stroke-width="0.8"/><line x1="525.39" y1="194.3" x2="525.39" y2="196.7" stroke="#c8c8c8" stroke-width="0.8"/><line x1="537.61" y1="194.3" x2="537.61" y2="196.7" stroke="#c8c8c8" stroke-width="0.8"/><line x1="549.83" y1="194.3" x2="549.83" y2="196.7" stroke="#c8c8c8" stroke-width="0.8"/><line x1="562.05" y1="194.3" x2="562.05" y2="196.7" stroke="#c8c8c8" stroke-width="0.8"/><line x1="574.28" y1="194.3" x2="574.28" y2="196.7" stroke="#c8c8c8" stroke-width="0.8"/><line x1="586.5" y1="194.3" x2="586.5" y2="196.7" stroke="#c8c8c8" stroke-width="0.8"/><line x1="598.72" y1="194.3" x2="598.72" y2="196.7" stroke="#c8c8c8" stroke-width="0.8"/><line x1="610.94" y1="194.3" x2="610.94" y2="196.7" stroke="#c8c8c8" stroke-width="0.8"/><line x1="623.16" y1="194.3" x2="623.16" y2="196.7" stroke="#c8c8c8" stroke-width="0.8"/><line x1="635.39" y1="194.3" x2="635.39" y2="196.7" stroke="#c8c8c8" stroke-width="0.8"/>
<text transform="translate(463,189.1) scale(1,1.1)" font-size="8.73" text-anchor="end" font-weight="normal" fill="#1a1a1a">0</text>
<text transform="translate(463,157.12) scale(1,1.1)" font-size="8.73" text-anchor="end" font-weight="normal" fill="#1a1a1a">0.2</text>
<text transform="translate(463,125.14) scale(1,1.1)" font-size="8.73" text-anchor="end" font-weight="normal" fill="#1a1a1a">0.4</text>
<text transform="translate(463,93.16) scale(1,1.1)" font-size="8.73" text-anchor="end" font-weight="normal" fill="#1a1a1a">0.6</text>
<text transform="translate(463,61.18) scale(1,1.1)" font-size="8.73" text-anchor="end" font-weight="normal" fill="#1a1a1a">0.8</text>
<text transform="translate(463,29.2) scale(1,1.1)" font-size="8.73" text-anchor="end" font-weight="normal" fill="#1a1a1a">1</text>
<text transform="translate(476.5,205.6) scale(1,1.1)" font-size="8.73" text-anchor="middle" font-weight="normal" fill="#1a1a1a">0</text>
<text transform="translate(488.72,205.6) scale(1,1.1)" font-size="8.73" text-anchor="middle" font-weight="normal" fill="#1a1a1a">7</text>
<text transform="translate(500.94,205.6) scale(1,1.1)" font-size="8.73" text-anchor="middle" font-weight="normal" fill="#1a1a1a">14</text>
<text transform="translate(513.17,205.6) scale(1,1.1)" font-size="8.73" text-anchor="middle" font-weight="normal" fill="#1a1a1a">21</text>
<text transform="translate(525.39,205.6) scale(1,1.1)" font-size="8.73" text-anchor="middle" font-weight="normal" fill="#1a1a1a">28</text>
<text transform="translate(537.61,205.6) scale(1,1.1)" font-size="8.73" text-anchor="middle" font-weight="normal" fill="#1a1a1a">35</text>
<text transform="translate(549.83,205.6) scale(1,1.1)" font-size="8.73" text-anchor="middle" font-weight="normal" fill="#1a1a1a">42</text>
<text transform="translate(562.05,205.6) scale(1,1.1)" font-size="8.73" text-anchor="middle" font-weight="normal" fill="#1a1a1a">49</text>
<text transform="translate(574.28,205.6) scale(1,1.1)" font-size="8.73" text-anchor="middle" font-weight="normal" fill="#1a1a1a">56</text>
<text transform="translate(586.5,205.6) scale(1,1.1)" font-size="8.73" text-anchor="middle" font-weight="normal" fill="#1a1a1a">63</text>
<text transform="translate(598.72,205.6) scale(1,1.1)" font-size="8.73" text-anchor="middle" font-weight="normal" fill="#1a1a1a">70</text>
<text transform="translate(610.94,205.6) scale(1,1.1)" font-size="8.73" text-anchor="middle" font-weight="normal" fill="#1a1a1a">77</text>
<text transform="translate(623.16,205.6) scale(1,1.1)" font-size="8.73" text-anchor="middle" font-weight="normal" fill="#1a1a1a">84</text>
<text transform="translate(635.39,205.6) scale(1,1.1)" font-size="8.73" text-anchor="middle" font-weight="normal" fill="#1a1a1a">91</text>
<text transform="translate(464.6,12.4) scale(1,1.1)" font-size="8.73" text-anchor="start" font-weight="normal" fill="#1a1a1a">No prior infection, two doses BNT162b2</text>
<text transform="translate(554.35,219) scale(1,1.1)" font-size="8.73" text-anchor="middle" font-weight="normal" fill="#1a1a1a">Time from first vaccination (days)</text>
<text transform="translate(443.2,106.4) rotate(-90)" font-size="8.77" text-anchor="middle" fill="#1a1a1a">Predicted probability of anti-spike IgG positivity</text>
<text transform="translate(435.8,7.9) scale(1,1.1)" font-size="10" text-anchor="start" font-weight="bold" fill="#000">c</text>
<clipPath id="clipd"><rect x="32.3" y="245.6" width="170.1" height="175.8"/></clipPath>
<line x1="32.3" y1="397.77" x2="202.4" y2="397.77" stroke="#f0f0f0" stroke-width="0.8"/><line x1="32.3" y1="365.71" x2="202.4" y2="365.71" stroke="#f0f0f0" stroke-width="0.8"/><line x1="32.3" y1="333.65" x2="202.4" y2="333.65" stroke="#f0f0f0" stroke-width="0.8"/><line x1="32.3" y1="301.59" x2="202.4" y2="301.59" stroke="#f0f0f0" stroke-width="0.8"/><line x1="32.3" y1="269.53" x2="202.4" y2="269.53" stroke="#f0f0f0" stroke-width="0.8"/><line x1="39.16" y1="245.6" x2="39.16" y2="421.4" stroke="#f0f0f0" stroke-width="0.8"/><line x1="55.18" y1="245.6" x2="55.18" y2="421.4" stroke="#f0f0f0" stroke-width="0.8"/><line x1="71.2" y1="245.6" x2="71.2" y2="421.4" stroke="#f0f0f0" stroke-width="0.8"/><line x1="87.22" y1="245.6" x2="87.22" y2="421.4" stroke="#f0f0f0" stroke-width="0.8"/><line x1="103.25" y1="245.6" x2="103.25" y2="421.4" stroke="#f0f0f0" stroke-width="0.8"/><line x1="119.27" y1="245.6" x2="119.27" y2="421.4" stroke="#f0f0f0" stroke-width="0.8"/><line x1="135.29" y1="245.6" x2="135.29" y2="421.4" stroke="#f0f0f0" stroke-width="0.8"/><line x1="151.31" y1="245.6" x2="151.31" y2="421.4" stroke="#f0f0f0" stroke-width="0.8"/><line x1="167.33" y1="245.6" x2="167.33" y2="421.4" stroke="#f0f0f0" stroke-width="0.8"/><line x1="183.35" y1="245.6" x2="183.35" y2="421.4" stroke="#f0f0f0" stroke-width="0.8"/><line x1="199.38" y1="245.6" x2="199.38" y2="421.4" stroke="#f0f0f0" stroke-width="0.8"/><line x1="32.3" y1="413.8" x2="202.4" y2="413.8" stroke="#ebebeb" stroke-width="1"/><line x1="32.3" y1="381.74" x2="202.4" y2="381.74" stroke="#ebebeb" stroke-width="1"/><line x1="32.3" y1="349.68" x2="202.4" y2="349.68" stroke="#ebebeb" stroke-width="1"/><line x1="32.3" y1="317.62" x2="202.4" y2="317.62" stroke="#ebebeb" stroke-width="1"/><line x1="32.3" y1="285.56" x2="202.4" y2="285.56" stroke="#ebebeb" stroke-width="1"/><line x1="32.3" y1="253.5" x2="202.4" y2="253.5" stroke="#ebebeb" stroke-width="1"/><line x1="47.17" y1="245.6" x2="47.17" y2="421.4" stroke="#ebebeb" stroke-width="1"/><line x1="63.19" y1="245.6" x2="63.19" y2="421.4" stroke="#ebebeb" stroke-width="1"/><line x1="79.21" y1="245.6" x2="79.21" y2="421.4" stroke="#ebebeb" stroke-width="1"/><line x1="95.24" y1="245.6" x2="95.24" y2="421.4" stroke="#ebebeb" stroke-width="1"/><line x1="111.26" y1="245.6" x2="111.26" y2="421.4" stroke="#ebebeb" stroke-width="1"/><line x1="127.28" y1="245.6" x2="127.28" y2="421.4" stroke="#ebebeb" stroke-width="1"/><line x1="143.3" y1="245.6" x2="143.3" y2="421.4" stroke="#ebebeb" stroke-width="1"/><line x1="159.32" y1="245.6" x2="159.32" y2="421.4" stroke="#ebebeb" stroke-width="1"/><line x1="175.34" y1="245.6" x2="175.34" y2="421.4" stroke="#ebebeb" stroke-width="1"/><line x1="191.36" y1="245.6" x2="191.36" y2="421.4" stroke="#ebebeb" stroke-width="1"/>
<g clip-path="url(#clipd)">
<path d="M40.2,268.3 C41.1,269.12 43.73,271.83 45.6,273.2 C47.47,274.57 49.13,276.08 51.4,276.5 C53.67,276.92 56.6,276.1 59.2,275.7 C61.8,275.3 64.42,274.52 67,274.1 C69.58,273.68 72.12,273.52 74.7,273.2 C77.28,272.88 79.9,272.53 82.5,272.2 C85.1,271.87 87.72,271.58 90.3,271.2 C92.88,270.82 95.42,270.32 98,269.9 C100.58,269.48 102.63,269.18 105.8,268.7 C108.97,268.22 113.52,267.72 117,267 C120.48,266.28 123.47,265.15 126.7,264.4 C129.93,263.65 133.17,263.15 136.4,262.5 C139.63,261.85 142.87,261.15 146.1,260.5 C149.33,259.85 152.57,259.23 155.8,258.6 C159.03,257.97 162.25,257.28 165.5,256.7 C168.75,256.12 172.05,255.5 175.3,255.1 C178.55,254.7 181.7,254.53 185,254.3 C188.3,254.07 193.42,253.8 195.1,253.7 L195.1,257 C193.75,257.17 189.52,257.58 187,258 C184.48,258.42 182.5,258.75 180,259.5 C177.5,260.25 174.5,261.08 172,262.5 C169.5,263.92 167.33,265.42 165,268 C162.67,270.58 160.17,274.83 158,278 C155.83,281.17 154.17,284.42 152,287 C149.83,289.58 147.6,292.33 145,293.5 C142.4,294.67 139.4,294.08 136.4,294 C133.4,293.92 130.23,293.17 127,293 C123.77,292.83 119.83,292.67 117,293 C114.17,293.33 112.83,294.17 110,295 C107.17,295.83 103.33,296.83 100,298 C96.67,299.17 93.25,300.5 90,302 C86.75,303.5 83.7,305.17 80.5,307 C77.3,308.83 74.03,311.17 70.8,313 C67.57,314.83 64.33,316.17 61.1,318 C57.87,319.83 53.98,321.67 51.4,324 C48.82,326.33 47.22,329 45.6,332 C43.98,335 42.6,338.27 41.7,342 C40.8,345.73 40.45,352.33 40.2,354.4 Z" fill="#374E55" fill-opacity="0.2"/>
<path d="M40.2,281.9 C41,282.58 43.37,284.73 45,286 C46.63,287.27 48.17,288.53 50,289.5 C51.83,290.47 54,291.63 56,291.8 C58,291.97 60,291.22 62,290.5 C64,289.78 65.67,288.75 68,287.5 C70.33,286.25 72.93,284.5 76,283 C79.07,281.5 83.38,279.58 86.4,278.5 C89.42,277.42 91.52,277.08 94.1,276.5 C96.68,275.92 99.3,275.43 101.9,275 C104.5,274.57 107.18,274.37 109.7,273.9 C112.22,273.43 113.95,272.68 117,272.2 C120.05,271.72 124.17,271.12 128,271 C131.83,270.88 136.33,271.92 140,271.5 C143.67,271.08 146.67,269.83 150,268.5 C153.33,267.17 156.67,265.08 160,263.5 C163.33,261.92 166.67,260.25 170,259 C173.33,257.75 175.82,256.83 180,256 C184.18,255.17 192.58,254.33 195.1,254 L195.1,256.5 C192.58,256.92 184.18,258.08 180,259 C175.82,259.92 173,260.83 170,262 C167,263.17 164.37,264.3 162,266 C159.63,267.7 157.63,270.03 155.8,272.2 C153.97,274.37 152.62,277.22 151,279 C149.38,280.78 148.53,282.1 146.1,282.9 C143.67,283.7 139.63,283.45 136.4,283.8 C133.17,284.15 129.93,284.63 126.7,285 C123.47,285.37 119.78,285.33 117,286 C114.22,286.67 112.83,288 110,289 C107.17,290 103.33,291.17 100,292 C96.67,292.83 93.33,293 90,294 C86.67,295 83.33,296.17 80,298 C76.67,299.83 73.33,302.67 70,305 C66.67,307.33 63.33,310.17 60,312 C56.67,313.83 53.3,314.67 50,316 C46.7,317.33 41.83,319.33 40.2,320 Z" fill="#DF8F44" fill-opacity="0.2"/>
<path d="M40.2,291.6 C41.42,292.57 44.98,296.27 47.5,297.4 C50.02,298.53 52.38,298.63 55.3,298.4 C58.22,298.17 61.72,297.4 65,296 C68.28,294.6 71.67,291.83 75,290 C78.33,288.17 81.67,286.17 85,285 C88.33,283.83 91.67,283.5 95,283 C98.33,282.5 101.33,282.5 105,282 C108.67,281.5 112.83,280.17 117,280 C121.17,279.83 126.12,280.52 130,281 C133.88,281.48 137.28,283.07 140.3,282.9 C143.32,282.73 145.65,281.48 148.1,280 C150.55,278.52 152.68,276.67 155,274 C157.32,271.33 159.5,266.5 162,264 C164.5,261.5 167,260.33 170,259 C173,257.67 175.82,256.58 180,256 C184.18,255.42 192.58,255.58 195.1,255.5 L195.1,259.5 C193.42,259.58 188.35,259.58 185,260 C181.65,260.42 178.33,260.67 175,262 C171.67,263.33 168.2,265.33 165,268 C161.8,270.67 158.13,275.17 155.8,278 C153.47,280.83 152.62,283.05 151,285 C149.38,286.95 147.88,288.77 146.1,289.7 C144.32,290.63 142.98,290.55 140.3,290.6 C137.62,290.65 133.88,290.1 130,290 C126.12,289.9 120.33,289.5 117,290 C113.67,290.5 112.83,292.17 110,293 C107.17,293.83 103.33,294.5 100,295 C96.67,295.5 93.33,295.33 90,296 C86.67,296.67 83,297.67 80,299 C77,300.33 74.5,302.17 72,304 C69.5,305.83 67.5,308.08 65,310 C62.5,311.92 59.5,313.92 57,315.5 C54.5,317.08 52,318.25 50,319.5 C48,320.75 46.63,321.92 45,323 C43.37,324.08 41,325.5 40.2,326 Z" fill="#00A1D5" fill-opacity="0.2"/>
<path d="M40.2,320 C42.07,318.5 47.92,313 51.4,311 C54.88,309 57.87,309 61.1,308 C64.33,307 67.57,306.33 70.8,305 C74.03,303.67 77.25,301.67 80.5,300 C83.75,298.33 87.05,296.42 90.3,295 C93.55,293.58 96.77,292.58 100,291.5 C103.23,290.42 106.87,289.42 109.7,288.5 C112.53,287.58 113.83,286.42 117,286 C120.17,285.58 124.82,285.75 128.7,286 C132.58,286.25 137.07,287.5 140.3,287.5 C143.53,287.5 145.52,287.92 148.1,286 C150.68,284.08 153.22,279.33 155.8,276 C158.38,272.67 161,268.5 163.6,266 C166.2,263.5 168.48,262.23 171.4,261 C174.32,259.77 177.15,259.17 181.1,258.6 C185.05,258.03 192.77,257.77 195.1,257.6 L195.1,270.2 C194.38,269.23 192.82,265.2 190.8,264.4 C188.78,263.6 185.58,264.92 183,265.4 C180.42,265.88 177.57,266.17 175.3,267.3 C173.03,268.43 171.35,269.77 169.4,272.2 C167.45,274.63 165.53,278.35 163.6,281.9 C161.67,285.45 159.58,289.62 157.8,293.5 C156.02,297.38 154.37,302.12 152.9,305.2 C151.43,308.28 150.45,310.32 149,312 C147.55,313.68 145.97,314.82 144.2,315.3 C142.43,315.78 140.35,315.45 138.4,314.9 C136.45,314.35 134.77,312.97 132.5,312 C130.23,311.03 127.38,309.58 124.8,309.1 C122.22,308.62 120.17,308.52 117,309.1 C113.83,309.68 109.28,311.37 105.8,312.6 C102.32,313.83 99.02,315.03 96.1,316.5 C93.18,317.97 90.57,319.95 88.3,321.4 C86.03,322.85 84.43,323.43 82.5,325.2 C80.57,326.97 78.65,330.37 76.7,332 C74.75,333.63 73.07,334.35 70.8,335 C68.53,335.65 65.37,335.27 63.1,335.9 C60.83,336.53 59.15,337.5 57.2,338.8 C55.25,340.1 53.02,341.75 51.4,343.7 C49.78,345.65 48.78,347.75 47.5,350.5 C46.22,353.25 44.92,356.32 43.7,360.2 C42.48,364.08 40.78,371.53 40.2,373.8 Z" fill="#B24745" fill-opacity="0.2"/>
<path d="M40.2,300.3 C41.42,299.98 44.98,299.03 47.5,298.4 C50.02,297.77 52.7,297.32 55.3,296.5 C57.9,295.68 60.52,294.58 63.1,293.5 C65.68,292.42 68.22,291.13 70.8,290 C73.38,288.87 76,287.63 78.6,286.7 C81.2,285.77 83.82,285.03 86.4,284.4 C88.98,283.77 91.52,283.38 94.1,282.9 C96.68,282.42 99.3,282.05 101.9,281.5 C104.5,280.95 107.18,280.43 109.7,279.6 C112.22,278.77 114.48,277.48 117,276.5 C119.52,275.52 122.22,274.58 124.8,273.7 C127.38,272.82 129.92,271.93 132.5,271.2 C135.08,270.47 137.7,269.85 140.3,269.3 C142.9,268.75 145.52,268.55 148.1,267.9 C150.68,267.25 153.22,266.37 155.8,265.4 C158.38,264.43 161,263.17 163.6,262.1 C166.2,261.03 168.82,259.9 171.4,259 C173.98,258.1 176.52,257.25 179.1,256.7 C181.68,256.15 184.23,256.03 186.9,255.7 C189.57,255.37 193.73,254.87 195.1,254.7" fill="none" stroke="#374E55" stroke-width="1.0" stroke-linejoin="round" stroke-linecap="butt"/>
<path d="M40.2,300.3 C41.1,300.63 43.73,301.8 45.6,302.3 C47.47,302.8 49.13,303.47 51.4,303.3 C53.67,303.13 56.6,302.43 59.2,301.3 C61.8,300.17 64.73,298.12 67,296.5 C69.27,294.88 70.87,293.23 72.8,291.6 C74.73,289.97 76.67,287.83 78.6,286.7 C80.53,285.57 82.13,285.35 84.4,284.8 C86.67,284.25 89.6,283.72 92.2,283.4 C94.8,283.08 97.42,283.32 100,282.9 C102.58,282.48 104.87,281.55 107.7,280.9 C110.53,280.25 114.15,279.8 117,279 C119.85,278.2 122.22,276.65 124.8,276.1 C127.38,275.55 130.23,275.45 132.5,275.7 C134.77,275.95 136.62,277.15 138.4,277.6 C140.18,278.05 141.58,278.5 143.2,278.4 C144.82,278.3 146.48,277.87 148.1,277 C149.72,276.13 151.28,274.65 152.9,273.2 C154.52,271.75 156.02,269.93 157.8,268.3 C159.58,266.67 161.67,264.77 163.6,263.4 C165.53,262.03 167.45,260.97 169.4,260.1 C171.35,259.23 173.03,258.77 175.3,258.2 C177.57,257.63 179.7,257.28 183,256.7 C186.3,256.12 193.08,255.03 195.1,254.7" fill="none" stroke="#DF8F44" stroke-width="1.0" stroke-linejoin="round" stroke-linecap="butt"/>
<path d="M40.2,307.1 C41.1,307.27 43.73,307.83 45.6,308.1 C47.47,308.37 49.47,308.87 51.4,308.7 C53.33,308.53 54.93,308 57.2,307.1 C59.47,306.2 62.4,304.92 65,303.3 C67.6,301.68 70.22,299.18 72.8,297.4 C75.38,295.62 77.92,293.73 80.5,292.6 C83.08,291.47 86.03,291.03 88.3,290.6 C90.57,290.17 92.15,290 94.1,290 C96.05,290 97.73,290.92 100,290.6 C102.27,290.28 105.43,288.95 107.7,288.1 C109.97,287.25 112.05,286.05 113.6,285.5 C115.15,284.95 115.13,285.08 117,284.8 C118.87,284.52 122.22,283.8 124.8,283.8 C127.38,283.8 130.23,284.32 132.5,284.8 C134.77,285.28 136.45,286.15 138.4,286.7 C140.35,287.25 142.43,288.42 144.2,288.1 C145.97,287.78 147.38,286.32 149,284.8 C150.62,283.28 152.28,281.1 153.9,279 C155.52,276.9 157.08,274.3 158.7,272.2 C160.32,270.1 161.82,268.08 163.6,266.4 C165.38,264.72 167.45,263.23 169.4,262.1 C171.35,260.97 173.03,260.28 175.3,259.6 C177.57,258.92 179.7,258.33 183,258 C186.3,257.67 193.08,257.67 195.1,257.6" fill="none" stroke="#00A1D5" stroke-width="1.0" stroke-linejoin="round" stroke-linecap="butt"/>
<path d="M40.2,338.8 C41.1,337.83 43.73,335.27 45.6,333 C47.47,330.73 49.47,327.47 51.4,325.2 C53.33,322.93 55.25,320.62 57.2,319.4 C59.15,318.18 60.83,318.38 63.1,317.9 C65.37,317.42 68.53,317.22 70.8,316.5 C73.07,315.78 74.75,314.73 76.7,313.6 C78.65,312.47 80.23,311.07 82.5,309.7 C84.77,308.33 87.72,306.7 90.3,305.4 C92.88,304.1 96.07,302.8 98,301.9 C99.93,301 100.28,300.75 101.9,300 C103.52,299.25 105.75,298.08 107.7,297.4 C109.65,296.72 112.05,296.22 113.6,295.9 C115.15,295.58 115.13,295.4 117,295.5 C118.87,295.6 122.22,295.85 124.8,296.5 C127.38,297.15 130.23,298.6 132.5,299.4 C134.77,300.2 136.62,300.92 138.4,301.3 C140.18,301.68 141.58,302.02 143.2,301.7 C144.82,301.38 146.48,300.92 148.1,299.4 C149.72,297.88 151.28,295.35 152.9,292.6 C154.52,289.85 156.02,286.13 157.8,282.9 C159.58,279.67 161.67,275.95 163.6,273.2 C165.53,270.45 167.45,268.03 169.4,266.4 C171.35,264.77 173.03,264.22 175.3,263.4 C177.57,262.58 180.42,261.98 183,261.5 C185.58,261.02 188.78,260.67 190.8,260.5 C192.82,260.33 194.38,260.5 195.1,260.5" fill="none" stroke="#B24745" stroke-width="1.0" stroke-linejoin="round" stroke-linecap="butt"/>
</g>
<rect x="32.3" y="245.6" width="170.1" height="175.8" fill="none" stroke="#d6d6d6" stroke-width="1"/>
<line x1="29.9" y1="413.8" x2="32.3" y2="413.8" stroke="#c8c8c8" stroke-width="0.8"/><line x1="29.9" y1="381.74" x2="32.3" y2="381.74" stroke="#c8c8c8" stroke-width="0.8"/><line x1="29.9" y1="349.68" x2="32.3" y2="349.68" stroke="#c8c8c8" stroke-width="0.8"/><line x1="29.9" y1="317.62" x2="32.3" y2="317.62" stroke="#c8c8c8" stroke-width="0.8"/><line x1="29.9" y1="285.56" x2="32.3" y2="285.56" stroke="#c8c8c8" stroke-width="0.8"/><line x1="29.9" y1="253.5" x2="32.3" y2="253.5" stroke="#c8c8c8" stroke-width="0.8"/><line x1="47.17" y1="421.4" x2="47.17" y2="423.8" stroke="#c8c8c8" stroke-width="0.8"/><line x1="63.19" y1="421.4" x2="63.19" y2="423.8" stroke="#c8c8c8" stroke-width="0.8"/><line x1="79.21" y1="421.4" x2="79.21" y2="423.8" stroke="#c8c8c8" stroke-width="0.8"/><line x1="95.24" y1="421.4" x2="95.24" y2="423.8" stroke="#c8c8c8" stroke-width="0.8"/><line x1="111.26" y1="421.4" x2="111.26" y2="423.8" stroke="#c8c8c8" stroke-width="0.8"/><line x1="127.28" y1="421.4" x2="127.28" y2="423.8" stroke="#c8c8c8" stroke-width="0.8"/><line x1="143.3" y1="421.4" x2="143.3" y2="423.8" stroke="#c8c8c8" stroke-width="0.8"/><line x1="159.32" y1="421.4" x2="159.32" y2="423.8" stroke="#c8c8c8" stroke-width="0.8"/><line x1="175.34" y1="421.4" x2="175.34" y2="423.8" stroke="#c8c8c8" stroke-width="0.8"/><line x1="191.36" y1="421.4" x2="191.36" y2="423.8" stroke="#c8c8c8" stroke-width="0.8"/>
<text transform="translate(25.6,416.5) scale(1,1.1)" font-size="8.73" text-anchor="end" font-weight="normal" fill="#1a1a1a">0</text>
<text transform="translate(25.6,384.44) scale(1,1.1)" font-size="8.73" text-anchor="end" font-weight="normal" fill="#1a1a1a">0.2</text>
<text transform="translate(25.6,352.38) scale(1,1.1)" font-size="8.73" text-anchor="end" font-weight="normal" fill="#1a1a1a">0.4</text>
<text transform="translate(25.6,320.32) scale(1,1.1)" font-size="8.73" text-anchor="end" font-weight="normal" fill="#1a1a1a">0.6</text>
<text transform="translate(25.6,288.26) scale(1,1.1)" font-size="8.73" text-anchor="end" font-weight="normal" fill="#1a1a1a">0.8</text>
<text transform="translate(25.6,256.2) scale(1,1.1)" font-size="8.73" text-anchor="end" font-weight="normal" fill="#1a1a1a">1</text>
<text transform="translate(49.07,425.7) rotate(-45) scale(1,1.05)" font-size="8.73" text-anchor="end" fill="#1a1a1a" dy="0.7em">&#8722;84</text>
<text transform="translate(65.09,425.7) rotate(-45) scale(1,1.05)" font-size="8.73" text-anchor="end" fill="#1a1a1a" dy="0.7em">&#8722;70</text>
<text transform="translate(81.11,425.7) rotate(-45) scale(1,1.05)" font-size="8.73" text-anchor="end" fill="#1a1a1a" dy="0.7em">&#8722;56</text>
<text transform="translate(97.14,425.7) rotate(-45) scale(1,1.05)" font-size="8.73" text-anchor="end" fill="#1a1a1a" dy="0.7em">&#8722;42</text>
<text transform="translate(113.16,425.7) rotate(-45) scale(1,1.05)" font-size="8.73" text-anchor="end" fill="#1a1a1a" dy="0.7em">&#8722;28</text>
<text transform="translate(129.18,425.7) rotate(-45) scale(1,1.05)" font-size="8.73" text-anchor="end" fill="#1a1a1a" dy="0.7em">&#8722;14</text>
<text transform="translate(144.3,425.2) rotate(-45) scale(1,1.05)" font-size="8.73" text-anchor="end" fill="#1a1a1a" dy="0.7em">0</text>
<text transform="translate(160.82,425.4) rotate(-45) scale(1,1.05)" font-size="8.73" text-anchor="end" fill="#1a1a1a" dy="0.7em">14</text>
<text transform="translate(176.84,425.4) rotate(-45) scale(1,1.05)" font-size="8.73" text-anchor="end" fill="#1a1a1a" dy="0.7em">28</text>
<text transform="translate(192.86,425.4) rotate(-45) scale(1,1.05)" font-size="8.73" text-anchor="end" fill="#1a1a1a" dy="0.7em">42</text>
<text transform="translate(28.3,239.7) scale(1,1.1)" font-size="8.73" text-anchor="start" font-weight="normal" fill="#1a1a1a">Prior infection, one dose ChAdOx1</text>
<text transform="translate(117.35,450.6) scale(1,1.1)" font-size="8.73" text-anchor="middle" font-weight="normal" fill="#1a1a1a">Time from first vaccination (days)</text>
<text transform="translate(6,333.5) rotate(-90)" font-size="8.77" text-anchor="middle" fill="#1a1a1a">Predicted probability of anti-spike IgG positivity</text>
<text transform="translate(-0.3,236.6) scale(1,1.1)" font-size="10" text-anchor="start" font-weight="bold" fill="#000">d</text>
<clipPath id="clipe"><rect x="251.5" y="245.6" width="170.2" height="175.8"/></clipPath>
<line x1="251.5" y1="397.77" x2="421.7" y2="397.77" stroke="#f0f0f0" stroke-width="0.8"/><line x1="251.5" y1="365.71" x2="421.7" y2="365.71" stroke="#f0f0f0" stroke-width="0.8"/><line x1="251.5" y1="333.65" x2="421.7" y2="333.65" stroke="#f0f0f0" stroke-width="0.8"/><line x1="251.5" y1="301.59" x2="421.7" y2="301.59" stroke="#f0f0f0" stroke-width="0.8"/><line x1="251.5" y1="269.53" x2="421.7" y2="269.53" stroke="#f0f0f0" stroke-width="0.8"/><line x1="259.06" y1="245.6" x2="259.06" y2="421.4" stroke="#f0f0f0" stroke-width="0.8"/><line x1="273.94" y1="245.6" x2="273.94" y2="421.4" stroke="#f0f0f0" stroke-width="0.8"/><line x1="288.81" y1="245.6" x2="288.81" y2="421.4" stroke="#f0f0f0" stroke-width="0.8"/><line x1="303.69" y1="245.6" x2="303.69" y2="421.4" stroke="#f0f0f0" stroke-width="0.8"/><line x1="318.56" y1="245.6" x2="318.56" y2="421.4" stroke="#f0f0f0" stroke-width="0.8"/><line x1="333.44" y1="245.6" x2="333.44" y2="421.4" stroke="#f0f0f0" stroke-width="0.8"/><line x1="348.31" y1="245.6" x2="348.31" y2="421.4" stroke="#f0f0f0" stroke-width="0.8"/><line x1="363.19" y1="245.6" x2="363.19" y2="421.4" stroke="#f0f0f0" stroke-width="0.8"/><line x1="378.06" y1="245.6" x2="378.06" y2="421.4" stroke="#f0f0f0" stroke-width="0.8"/><line x1="392.94" y1="245.6" x2="392.94" y2="421.4" stroke="#f0f0f0" stroke-width="0.8"/><line x1="407.81" y1="245.6" x2="407.81" y2="421.4" stroke="#f0f0f0" stroke-width="0.8"/><line x1="251.5" y1="413.8" x2="421.7" y2="413.8" stroke="#ebebeb" stroke-width="1"/><line x1="251.5" y1="381.74" x2="421.7" y2="381.74" stroke="#ebebeb" stroke-width="1"/><line x1="251.5" y1="349.68" x2="421.7" y2="349.68" stroke="#ebebeb" stroke-width="1"/><line x1="251.5" y1="317.62" x2="421.7" y2="317.62" stroke="#ebebeb" stroke-width="1"/><line x1="251.5" y1="285.56" x2="421.7" y2="285.56" stroke="#ebebeb" stroke-width="1"/><line x1="251.5" y1="253.5" x2="421.7" y2="253.5" stroke="#ebebeb" stroke-width="1"/><line x1="266.5" y1="245.6" x2="266.5" y2="421.4" stroke="#ebebeb" stroke-width="1"/><line x1="281.38" y1="245.6" x2="281.38" y2="421.4" stroke="#ebebeb" stroke-width="1"/><line x1="296.25" y1="245.6" x2="296.25" y2="421.4" stroke="#ebebeb" stroke-width="1"/><line x1="311.12" y1="245.6" x2="311.12" y2="421.4" stroke="#ebebeb" stroke-width="1"/><line x1="326" y1="245.6" x2="326" y2="421.4" stroke="#ebebeb" stroke-width="1"/><line x1="340.88" y1="245.6" x2="340.88" y2="421.4" stroke="#ebebeb" stroke-width="1"/><line x1="355.75" y1="245.6" x2="355.75" y2="421.4" stroke="#ebebeb" stroke-width="1"/><line x1="370.62" y1="245.6" x2="370.62" y2="421.4" stroke="#ebebeb" stroke-width="1"/><line x1="385.5" y1="245.6" x2="385.5" y2="421.4" stroke="#ebebeb" stroke-width="1"/><line x1="400.38" y1="245.6" x2="400.38" y2="421.4" stroke="#ebebeb" stroke-width="1"/><line x1="415.25" y1="245.6" x2="415.25" y2="421.4" stroke="#ebebeb" stroke-width="1"/>
<g clip-path="url(#clipe)">
<path d="M259.2,268.3 C259.78,268.95 261.48,271.72 262.7,272.2 C263.92,272.68 264.57,271.85 266.5,271.2 C268.43,270.55 271.7,269.17 274.3,268.3 C276.9,267.43 279.52,266.65 282.1,266 C284.68,265.35 287.22,264.83 289.8,264.4 C292.38,263.97 295,263.78 297.6,263.4 C300.2,263.02 302.82,262.65 305.4,262.1 C307.98,261.55 310.52,260.52 313.1,260.1 C315.68,259.68 318.3,259.53 320.9,259.6 C323.5,259.67 326.18,259.87 328.7,260.5 C331.22,261.13 333.17,262.75 336,263.4 C338.83,264.05 342.47,264.88 345.7,264.4 C348.93,263.92 352.17,261.95 355.4,260.5 C358.63,259.05 361.87,256.83 365.1,255.7 C368.33,254.57 370.65,254.15 374.8,253.7 C378.95,253.25 383.42,253.15 390,253 C396.58,252.85 410.25,252.83 414.3,252.8 L414.3,257 C410.25,257 396.55,256.67 390,257 C383.45,257.33 378.67,257.83 375,259 C371.33,260.17 370.17,261.67 368,264 C365.83,266.33 363.83,270 362,273 C360.17,276 358.67,280 357,282 C355.33,284 354,284.17 352,285 C350,285.83 347.67,286.5 345,287 C342.33,287.5 338.83,287 336,288 C333.17,289 330.67,291 328,293 C325.33,295 323,298 320,300 C317,302 313.33,303.83 310,305 C306.67,306.17 303.33,306.33 300,307 C296.67,307.67 292.98,308.33 290,309 C287.02,309.67 284.4,310.17 282.1,311 C279.8,311.83 278.15,312.33 276.2,314 C274.25,315.67 272.17,317.83 270.4,321 C268.63,324.17 266.88,329.05 265.6,333 C264.32,336.95 263.52,340.48 262.7,344.7 C261.88,348.92 261.28,353.62 260.7,358.3 C260.12,362.98 259.45,370.38 259.2,372.8 Z" fill="#374E55" fill-opacity="0.2"/>
<path d="M259.2,290 C260.22,290.08 263.17,291.51 265.31,290.46 C267.45,289.41 269.73,285.61 272.05,283.7 C274.37,281.79 276.87,280.16 279.21,278.98 C281.55,277.81 283.97,277.28 286.12,276.65 C288.27,276.02 290.23,275.66 292.12,275.19 C294.01,274.72 295.64,274.43 297.44,273.83 C299.24,273.23 300.94,272.42 302.89,271.6 C304.84,270.79 306.91,269.67 309.13,268.94 C311.35,268.21 313.87,267.54 316.22,267.25 C318.57,266.96 320.97,267.08 323.24,267.22 C325.51,267.36 327.57,267.69 329.86,268.1 C332.15,268.51 335.08,269.29 336.98,269.67 C338.88,270.05 339.84,270.22 341.28,270.36 C342.72,270.5 344,270.88 345.62,270.51 C347.24,270.14 349.01,269.37 350.97,268.17 C352.93,266.97 355.18,264.83 357.37,263.31 C359.56,261.79 361.9,260.28 364.1,259.07 C366.31,257.86 368.19,256.83 370.6,256.07 C373.01,255.31 375.26,254.94 378.55,254.51 C381.84,254.08 386.43,253.74 390.33,253.5 C394.23,253.26 397.97,253.23 401.96,253.1 C405.95,252.97 412.21,252.77 414.26,252.7 L414.37,255.9 C412.32,255.97 406.05,256.17 402.07,256.3 C398.09,256.43 394.37,256.47 390.52,256.7 C386.67,256.93 382.09,257.26 378.96,257.68 C375.83,258.1 373.73,258.34 371.72,259.24 C369.71,260.14 368.52,261.55 366.91,263.08 C365.31,264.61 363.78,266.43 362.09,268.43 C360.4,270.43 358.74,273.07 356.76,275.1 C354.78,277.13 352.6,279.3 350.2,280.61 C347.8,281.92 344.88,282.66 342.35,282.98 C339.82,283.3 337.49,282.88 335.02,282.53 C332.55,282.18 329.65,281.29 327.54,280.9 C325.43,280.51 323.99,280.31 322.36,280.18 C320.73,280.06 319.29,279.97 317.78,280.15 C316.26,280.33 314.91,280.69 313.27,281.26 C311.62,281.83 309.86,282.78 307.91,283.6 C305.96,284.42 303.67,285.47 301.56,286.17 C299.45,286.87 297.26,287.31 295.28,287.81 C293.3,288.31 291.39,288.68 289.68,289.15 C287.97,289.62 286.55,289.86 284.99,290.62 C283.44,291.38 281.93,292.38 280.35,293.7 C278.77,295.02 277.2,296.36 275.49,298.54 C273.78,300.72 271.87,303.99 270.07,306.8 C268.27,309.62 266.53,310.73 264.72,315.43 C262.91,320.13 260.12,331.74 259.2,335 Z" fill="#DF8F44" fill-opacity="0.2"/>
<path d="M259.2,292 C260.57,293.05 264.98,297.95 267.4,298.3 C269.81,298.65 271.56,295.31 273.69,294.08 C275.82,292.84 278,291.79 280.17,290.89 C282.34,289.99 284.6,289.18 286.69,288.65 C288.78,288.12 290.82,288.08 292.73,287.7 C294.64,287.32 296.24,286.93 298.14,286.39 C300.04,285.85 302.12,285 304.12,284.47 C306.12,283.94 308.19,283.65 310.11,283.22 C312.03,282.79 313.83,282.4 315.63,281.89 C317.43,281.38 319,280.96 320.9,280.17 C322.8,279.38 324.9,277.89 327.06,277.18 C329.22,276.47 331.27,276 333.85,275.9 C336.43,275.79 340.05,276.2 342.52,276.55 C344.99,276.9 346.83,277.53 348.66,277.99 C350.49,278.45 352.44,279 353.5,279.29 C354.56,279.58 354.22,280.24 355.02,279.73 C355.81,279.22 357.01,278.04 358.27,276.22 C359.52,274.41 361.08,271.2 362.55,268.84 C364.02,266.48 365.52,263.95 367.08,262.06 C368.64,260.17 370.02,258.59 371.91,257.5 C373.81,256.41 376.02,255.9 378.45,255.52 C380.88,255.14 383.83,255.25 386.47,255.2 C389.11,255.15 391.71,255.2 394.3,255.2 C396.89,255.2 399.43,255.15 402.03,255.2 C404.63,255.25 407.83,255.35 409.91,255.5 C411.99,255.65 413.74,256.01 414.5,256.11 L413.84,261.07 C413.12,260.97 411.53,260.63 409.54,260.49 C407.56,260.35 404.47,260.25 401.93,260.2 C399.39,260.15 396.86,260.2 394.3,260.2 C391.74,260.2 389.07,260.14 386.57,260.2 C384.07,260.26 381.2,260.19 379.3,260.56 C377.4,260.93 376.26,261.53 375.15,262.42 C374.04,263.31 373.6,264.25 372.62,265.92 C371.64,267.59 369.76,269.55 369.28,272.43 C368.8,275.31 370.73,280.1 369.75,283.18 C368.77,286.26 366.13,289.12 363.42,290.89 C360.71,292.66 356.44,293.5 353.5,293.8 C350.56,294.1 347.96,293.11 345.77,292.71 C343.58,292.31 342.27,291.7 340.36,291.4 C338.45,291.1 335.7,290.91 334.31,290.9 C332.92,290.89 333.27,290.81 331.99,291.34 C330.71,291.87 328.64,293.22 326.6,294.05 C324.56,294.88 321.94,295.69 319.74,296.32 C317.54,296.95 315.35,297.42 313.39,297.86 C311.43,298.3 310.05,299.28 307.96,298.97 C305.87,298.66 303.07,296.25 300.86,296.01 C298.65,295.76 296.63,297.11 294.67,297.5 C292.71,297.89 290.88,297.92 289.11,298.35 C287.34,298.79 285.76,299.38 284.03,300.11 C282.3,300.84 280.48,301.69 278.71,302.72 C276.94,303.75 275.18,304.97 273.4,306.3 C271.62,307.63 270.42,305.1 268.05,310.72 C265.68,316.34 260.68,335.12 259.2,340 Z" fill="#00A1D5" fill-opacity="0.2"/>
<path d="M259.2,280 C259.67,281.67 260.87,287.17 262,290 C263.13,292.83 264.33,295.33 266,297 C267.67,298.67 269.67,299.5 272,300 C274.33,300.5 277,300.33 280,300 C283,299.67 286.67,298.67 290,298 C293.33,297.33 296.67,296.33 300,296 C303.33,295.67 306.67,296.5 310,296 C313.33,295.5 317,294.5 320,293 C323,291.5 325.33,288.85 328,287 C330.67,285.15 333.05,282.43 336,281.9 C338.95,281.37 343.12,283 345.7,283.8 C348.28,284.6 349.55,285.88 351.5,286.7 C353.45,287.52 355.78,288.85 357.4,288.7 C359.02,288.55 359.92,287.9 361.2,285.8 C362.48,283.7 363.63,279.67 365.1,276.1 C366.57,272.53 368.38,267.32 370,264.4 C371.62,261.48 372.38,259.95 374.8,258.6 C377.22,257.25 381.25,256.62 384.5,256.3 C387.75,255.98 391.05,256.32 394.3,256.7 C397.55,257.08 400.67,257.48 404,258.6 C407.33,259.72 412.58,262.6 414.3,263.4 L414.3,311 C414.03,308.73 413.45,301.93 412.7,297.4 C411.95,292.87 411.25,288.33 409.8,283.8 C408.35,279.27 405.95,273.6 404,270.2 C402.05,266.8 400.37,265.02 398.1,263.4 C395.83,261.78 392.98,260.98 390.4,260.5 C387.82,260.02 384.87,260.02 382.6,260.5 C380.33,260.98 378.42,261.78 376.8,263.4 C375.18,265.02 374.2,266.8 372.9,270.2 C371.6,273.6 370.3,278.62 369,283.8 C367.7,288.98 366.4,296.12 365.1,301.3 C363.8,306.48 362.48,311.82 361.2,314.9 C359.92,317.98 358.68,319.63 357.4,319.8 C356.12,319.97 354.8,317.68 353.5,315.9 C352.2,314.12 351.22,311.2 349.6,309.1 C347.98,307 346.07,304.6 343.8,303.3 C341.53,302 338.52,300.23 336,301.3 C333.48,302.37 330.9,307.17 328.7,309.7 C326.5,312.23 324.58,314.23 322.8,316.5 C321.02,318.77 319.62,321.68 318,323.3 C316.38,324.92 314.72,326.03 313.1,326.2 C311.48,326.37 309.92,324.95 308.3,324.3 C306.68,323.65 305.18,322.3 303.4,322.3 C301.62,322.3 299.87,323.65 297.6,324.3 C295.33,324.95 292.72,325.4 289.8,326.2 C286.88,327 283,328.28 280.1,329.1 C277.2,329.92 274.67,330.28 272.4,331.1 C270.13,331.92 268.12,332.38 266.5,334 C264.88,335.62 263.67,338.38 262.7,340.8 C261.73,343.22 261.28,345.58 260.7,348.5 C260.12,351.42 259.45,356.67 259.2,358.3 Z" fill="#B24745" fill-opacity="0.2"/>
<path d="M259.2,311 C259.78,309.72 261.48,305.88 262.7,303.3 C263.92,300.72 265.22,297.93 266.5,295.5 C267.78,293.07 268.78,290.97 270.4,288.7 C272.02,286.43 274.25,283.85 276.2,281.9 C278.15,279.95 280.15,278.3 282.1,277 C284.05,275.7 285.97,274.8 287.9,274.1 C289.83,273.4 291.77,273.28 293.7,272.8 C295.63,272.32 297.55,271.68 299.5,271.2 C301.45,270.72 303.45,270.65 305.4,269.9 C307.35,269.15 309.27,267.52 311.2,266.7 C313.13,265.88 315.07,265.22 317,265 C318.93,264.78 320.85,265.02 322.8,265.4 C324.75,265.78 326.5,266.33 328.7,267.3 C330.9,268.27 333.82,270.38 336,271.2 C338.18,272.02 339.85,272.37 341.8,272.2 C343.75,272.03 345.75,271.17 347.7,270.2 C349.65,269.23 351.57,267.85 353.5,266.4 C355.43,264.95 357.37,262.97 359.3,261.5 C361.23,260.03 363.15,258.57 365.1,257.6 C367.05,256.63 368.73,256.18 371,255.7 C373.27,255.22 375.47,254.93 378.7,254.7 C381.93,254.47 386.52,254.4 390.4,254.3 C394.28,254.2 398.02,254.2 402,254.1 C405.98,254 412.25,253.77 414.3,253.7" fill="none" stroke="#374E55" stroke-width="1.0" stroke-linejoin="round" stroke-linecap="butt"/>
<path d="M259.2,312 C260.1,310.55 262.73,306.22 264.6,303.3 C266.47,300.38 268.47,296.93 270.4,294.5 C272.33,292.07 274.25,290.32 276.2,288.7 C278.15,287.08 280.15,285.77 282.1,284.8 C284.05,283.83 285.97,283.45 287.9,282.9 C289.83,282.35 291.77,281.98 293.7,281.5 C295.63,281.02 297.55,280.65 299.5,280 C301.45,279.35 303.45,278.42 305.4,277.6 C307.35,276.78 309.27,275.75 311.2,275.1 C313.13,274.45 315.07,273.93 317,273.7 C318.93,273.47 320.85,273.57 322.8,273.7 C324.75,273.83 326.5,274.1 328.7,274.5 C330.9,274.9 333.82,275.77 336,276.1 C338.18,276.43 339.85,276.67 341.8,276.5 C343.75,276.33 345.75,275.98 347.7,275.1 C349.65,274.22 351.57,272.82 353.5,271.2 C355.43,269.58 357.37,267.18 359.3,265.4 C361.23,263.62 363.15,261.87 365.1,260.5 C367.05,259.13 368.73,258 371,257.2 C373.27,256.4 375.47,256.12 378.7,255.7 C381.93,255.28 386.52,254.93 390.4,254.7 C394.28,254.47 398.02,254.43 402,254.3 C405.98,254.17 412.25,253.97 414.3,253.9" fill="none" stroke="#DF8F44" stroke-width="1.0" stroke-linejoin="round" stroke-linecap="butt"/>
<path d="M259.2,313 C260.1,312.02 262.73,308.88 264.6,307.1 C266.47,305.32 268.47,303.75 270.4,302.3 C272.33,300.85 274.25,299.53 276.2,298.4 C278.15,297.27 280.15,296.32 282.1,295.5 C284.05,294.68 285.97,293.98 287.9,293.5 C289.83,293.02 291.77,292.98 293.7,292.6 C295.63,292.22 297.55,291.75 299.5,291.2 C301.45,290.65 303.45,289.82 305.4,289.3 C307.35,288.78 309.27,288.53 311.2,288.1 C313.13,287.67 315.07,287.25 317,286.7 C318.93,286.15 320.85,285.6 322.8,284.8 C324.75,284 326.83,282.55 328.7,281.9 C330.57,281.25 331.82,280.97 334,280.9 C336.18,280.83 339.52,281.17 341.8,281.5 C344.08,281.83 345.75,282.52 347.7,282.9 C349.65,283.28 351.88,283.8 353.5,283.8 C355.12,283.8 356.12,283.87 357.4,282.9 C358.68,281.93 359.92,280.12 361.2,278 C362.48,275.88 363.8,272.63 365.1,270.2 C366.4,267.77 367.7,265.27 369,263.4 C370.3,261.53 371.28,260.07 372.9,259 C374.52,257.93 376.43,257.38 378.7,257 C380.97,256.62 383.9,256.75 386.5,256.7 C389.1,256.65 391.72,256.7 394.3,256.7 C396.88,256.7 399.42,256.65 402,256.7 C404.58,256.75 407.75,256.85 409.8,257 C411.85,257.15 413.55,257.5 414.3,257.6" fill="none" stroke="#00A1D5" stroke-width="1.0" stroke-linejoin="round" stroke-linecap="butt"/>
<path d="M259.2,313.9 C259.78,313.58 261.15,312.48 262.7,312 C264.25,311.52 266.57,311.17 268.5,311 C270.43,310.83 272.37,311.17 274.3,311 C276.23,310.83 278.15,310.48 280.1,310 C282.05,309.52 284.05,308.58 286,308.1 C287.95,307.62 289.87,307.42 291.8,307.1 C293.73,306.78 295.67,306.68 297.6,306.2 C299.53,305.72 301.62,304.05 303.4,304.2 C305.18,304.35 306.68,306.28 308.3,307.1 C309.92,307.92 311.48,309.42 313.1,309.1 C314.72,308.78 316.38,306.82 318,305.2 C319.62,303.58 321.02,301.5 322.8,299.4 C324.58,297.3 326.92,294.28 328.7,292.6 C330.48,290.92 332.28,289.95 333.5,289.3 C334.72,288.65 334.62,288.8 336,288.7 C337.38,288.6 339.85,288.22 341.8,288.7 C343.75,289.18 346.08,290.3 347.7,291.6 C349.32,292.9 350.22,294.72 351.5,296.5 C352.78,298.28 354.27,301.02 355.4,302.3 C356.53,303.58 357.33,304.37 358.3,304.2 C359.27,304.03 360.22,303.4 361.2,301.3 C362.18,299.2 363.22,295.15 364.2,291.6 C365.18,288.05 366.13,283.72 367.1,280 C368.07,276.28 368.87,272.38 370,269.3 C371.13,266.22 372.45,263.28 373.9,261.5 C375.35,259.72 376.6,259.25 378.7,258.6 C380.8,257.95 383.9,257.67 386.5,257.6 C389.1,257.53 392.03,257.72 394.3,258.2 C396.57,258.68 398.33,259.47 400.1,260.5 C401.87,261.53 403.45,263.1 404.9,264.4 C406.35,265.7 407.67,267.33 408.8,268.3 C409.93,269.27 410.78,268.9 411.7,270.2 C412.62,271.5 413.87,275.12 414.3,276.1" fill="none" stroke="#B24745" stroke-width="1.0" stroke-linejoin="round" stroke-linecap="butt"/>
</g>
<rect x="251.5" y="245.6" width="170.2" height="175.8" fill="none" stroke="#d6d6d6" stroke-width="1"/>
<line x1="249.1" y1="413.8" x2="251.5" y2="413.8" stroke="#c8c8c8" stroke-width="0.8"/><line x1="249.1" y1="381.74" x2="251.5" y2="381.74" stroke="#c8c8c8" stroke-width="0.8"/><line x1="249.1" y1="349.68" x2="251.5" y2="349.68" stroke="#c8c8c8" stroke-width="0.8"/><line x1="249.1" y1="317.62" x2="251.5" y2="317.62" stroke="#c8c8c8" stroke-width="0.8"/><line x1="249.1" y1="285.56" x2="251.5" y2="285.56" stroke="#c8c8c8" stroke-width="0.8"/><line x1="249.1" y1="253.5" x2="251.5" y2="253.5" stroke="#c8c8c8" stroke-width="0.8"/><line x1="266.5" y1="421.4" x2="266.5" y2="423.8" stroke="#c8c8c8" stroke-width="0.8"/><line x1="281.38" y1="421.4" x2="281.38" y2="423.8" stroke="#c8c8c8" stroke-width="0.8"/><line x1="296.25" y1="421.4" x2="296.25" y2="423.8" stroke="#c8c8c8" stroke-width="0.8"/><line x1="311.12" y1="421.4" x2="311.12" y2="423.8" stroke="#c8c8c8" stroke-width="0.8"/><line x1="326" y1="421.4" x2="326" y2="423.8" stroke="#c8c8c8" stroke-width="0.8"/><line x1="340.88" y1="421.4" x2="340.88" y2="423.8" stroke="#c8c8c8" stroke-width="0.8"/><line x1="355.75" y1="421.4" x2="355.75" y2="423.8" stroke="#c8c8c8" stroke-width="0.8"/><line x1="370.62" y1="421.4" x2="370.62" y2="423.8" stroke="#c8c8c8" stroke-width="0.8"/><line x1="385.5" y1="421.4" x2="385.5" y2="423.8" stroke="#c8c8c8" stroke-width="0.8"/><line x1="400.38" y1="421.4" x2="400.38" y2="423.8" stroke="#c8c8c8" stroke-width="0.8"/><line x1="415.25" y1="421.4" x2="415.25" y2="423.8" stroke="#c8c8c8" stroke-width="0.8"/>
<text transform="translate(244.6,416.5) scale(1,1.1)" font-size="8.73" text-anchor="end" font-weight="normal" fill="#1a1a1a">0</text>
<text transform="translate(244.6,384.44) scale(1,1.1)" font-size="8.73" text-anchor="end" font-weight="normal" fill="#1a1a1a">0.2</text>
<text transform="translate(244.6,352.38) scale(1,1.1)" font-size="8.73" text-anchor="end" font-weight="normal" fill="#1a1a1a">0.4</text>
<text transform="translate(244.6,320.32) scale(1,1.1)" font-size="8.73" text-anchor="end" font-weight="normal" fill="#1a1a1a">0.6</text>
<text transform="translate(244.6,288.26) scale(1,1.1)" font-size="8.73" text-anchor="end" font-weight="normal" fill="#1a1a1a">0.8</text>
<text transform="translate(244.6,256.2) scale(1,1.1)" font-size="8.73" text-anchor="end" font-weight="normal" fill="#1a1a1a">1</text>
<text transform="translate(268.4,425.7) rotate(-45) scale(1,1.05)" font-size="8.73" text-anchor="end" fill="#1a1a1a" dy="0.7em">&#8722;84</text>
<text transform="translate(283.27,425.7) rotate(-45) scale(1,1.05)" font-size="8.73" text-anchor="end" fill="#1a1a1a" dy="0.7em">&#8722;70</text>
<text transform="translate(298.15,425.7) rotate(-45) scale(1,1.05)" font-size="8.73" text-anchor="end" fill="#1a1a1a" dy="0.7em">&#8722;56</text>
<text transform="translate(313.02,425.7) rotate(-45) scale(1,1.05)" font-size="8.73" text-anchor="end" fill="#1a1a1a" dy="0.7em">&#8722;42</text>
<text transform="translate(327.9,425.7) rotate(-45) scale(1,1.05)" font-size="8.73" text-anchor="end" fill="#1a1a1a" dy="0.7em">&#8722;28</text>
<text transform="translate(342.77,425.7) rotate(-45) scale(1,1.05)" font-size="8.73" text-anchor="end" fill="#1a1a1a" dy="0.7em">&#8722;14</text>
<text transform="translate(356.75,425.2) rotate(-45) scale(1,1.05)" font-size="8.73" text-anchor="end" fill="#1a1a1a" dy="0.7em">0</text>
<text transform="translate(372.12,425.4) rotate(-45) scale(1,1.05)" font-size="8.73" text-anchor="end" fill="#1a1a1a" dy="0.7em">14</text>
<text transform="translate(387,425.4) rotate(-45) scale(1,1.05)" font-size="8.73" text-anchor="end" fill="#1a1a1a" dy="0.7em">28</text>
<text transform="translate(401.88,425.4) rotate(-45) scale(1,1.05)" font-size="8.73" text-anchor="end" fill="#1a1a1a" dy="0.7em">42</text>
<text transform="translate(416.75,425.4) rotate(-45) scale(1,1.05)" font-size="8.73" text-anchor="end" fill="#1a1a1a" dy="0.7em">56</text>
<text transform="translate(247.8,240) scale(1,1.1)" font-size="8.73" text-anchor="start" font-weight="normal" fill="#1a1a1a">Prior infection, one dose BNT162b2</text>
<text transform="translate(336.6,450.6) scale(1,1.1)" font-size="8.73" text-anchor="middle" font-weight="normal" fill="#1a1a1a">Time from first vaccination (days)</text>
<text transform="translate(223.2,333.5) rotate(-90)" font-size="8.77" text-anchor="middle" fill="#1a1a1a">Predicted probability of anti-spike IgG positivity</text>
<text transform="translate(215.9,237) scale(1,1.1)" font-size="10" text-anchor="start" font-weight="bold" fill="#000">e</text>
<clipPath id="clipf"><rect x="470.4" y="245.6" width="169.1" height="175.8"/></clipPath>
<line x1="470.4" y1="397.77" x2="639.5" y2="397.77" stroke="#f0f0f0" stroke-width="0.8"/><line x1="470.4" y1="365.71" x2="639.5" y2="365.71" stroke="#f0f0f0" stroke-width="0.8"/><line x1="470.4" y1="333.65" x2="639.5" y2="333.65" stroke="#f0f0f0" stroke-width="0.8"/><line x1="470.4" y1="301.59" x2="639.5" y2="301.59" stroke="#f0f0f0" stroke-width="0.8"/><line x1="470.4" y1="269.53" x2="639.5" y2="269.53" stroke="#f0f0f0" stroke-width="0.8"/><line x1="472.66" y1="245.6" x2="472.66" y2="421.4" stroke="#f0f0f0" stroke-width="0.8"/><line x1="484.34" y1="245.6" x2="484.34" y2="421.4" stroke="#f0f0f0" stroke-width="0.8"/><line x1="496.01" y1="245.6" x2="496.01" y2="421.4" stroke="#f0f0f0" stroke-width="0.8"/><line x1="507.69" y1="245.6" x2="507.69" y2="421.4" stroke="#f0f0f0" stroke-width="0.8"/><line x1="519.37" y1="245.6" x2="519.37" y2="421.4" stroke="#f0f0f0" stroke-width="0.8"/><line x1="531.04" y1="245.6" x2="531.04" y2="421.4" stroke="#f0f0f0" stroke-width="0.8"/><line x1="542.72" y1="245.6" x2="542.72" y2="421.4" stroke="#f0f0f0" stroke-width="0.8"/><line x1="554.39" y1="245.6" x2="554.39" y2="421.4" stroke="#f0f0f0" stroke-width="0.8"/><line x1="566.07" y1="245.6" x2="566.07" y2="421.4" stroke="#f0f0f0" stroke-width="0.8"/><line x1="577.75" y1="245.6" x2="577.75" y2="421.4" stroke="#f0f0f0" stroke-width="0.8"/><line x1="589.42" y1="245.6" x2="589.42" y2="421.4" stroke="#f0f0f0" stroke-width="0.8"/><line x1="601.1" y1="245.6" x2="601.1" y2="421.4" stroke="#f0f0f0" stroke-width="0.8"/><line x1="612.77" y1="245.6" x2="612.77" y2="421.4" stroke="#f0f0f0" stroke-width="0.8"/><line x1="624.45" y1="245.6" x2="624.45" y2="421.4" stroke="#f0f0f0" stroke-width="0.8"/><line x1="470.4" y1="413.8" x2="639.5" y2="413.8" stroke="#ebebeb" stroke-width="1"/><line x1="470.4" y1="381.74" x2="639.5" y2="381.74" stroke="#ebebeb" stroke-width="1"/><line x1="470.4" y1="349.68" x2="639.5" y2="349.68" stroke="#ebebeb" stroke-width="1"/><line x1="470.4" y1="317.62" x2="639.5" y2="317.62" stroke="#ebebeb" stroke-width="1"/><line x1="470.4" y1="285.56" x2="639.5" y2="285.56" stroke="#ebebeb" stroke-width="1"/><line x1="470.4" y1="253.5" x2="639.5" y2="253.5" stroke="#ebebeb" stroke-width="1"/><line x1="478.5" y1="245.6" x2="478.5" y2="421.4" stroke="#ebebeb" stroke-width="1"/><line x1="490.18" y1="245.6" x2="490.18" y2="421.4" stroke="#ebebeb" stroke-width="1"/><line x1="501.85" y1="245.6" x2="501.85" y2="421.4" stroke="#ebebeb" stroke-width="1"/><line x1="513.53" y1="245.6" x2="513.53" y2="421.4" stroke="#ebebeb" stroke-width="1"/><line x1="525.2" y1="245.6" x2="525.2" y2="421.4" stroke="#ebebeb" stroke-width="1"/><line x1="536.88" y1="245.6" x2="536.88" y2="421.4" stroke="#ebebeb" stroke-width="1"/><line x1="548.56" y1="245.6" x2="548.56" y2="421.4" stroke="#ebebeb" stroke-width="1"/><line x1="560.23" y1="245.6" x2="560.23" y2="421.4" stroke="#ebebeb" stroke-width="1"/><line x1="571.91" y1="245.6" x2="571.91" y2="421.4" stroke="#ebebeb" stroke-width="1"/><line x1="583.58" y1="245.6" x2="583.58" y2="421.4" stroke="#ebebeb" stroke-width="1"/><line x1="595.26" y1="245.6" x2="595.26" y2="421.4" stroke="#ebebeb" stroke-width="1"/><line x1="606.94" y1="245.6" x2="606.94" y2="421.4" stroke="#ebebeb" stroke-width="1"/><line x1="618.61" y1="245.6" x2="618.61" y2="421.4" stroke="#ebebeb" stroke-width="1"/><line x1="630.29" y1="245.6" x2="630.29" y2="421.4" stroke="#ebebeb" stroke-width="1"/>
<g clip-path="url(#clipf)">
<rect x="513.3" y="253.5" width="7" height="96.18" fill="#ADD8E6"/>
<rect x="513.3" y="349.68" width="7" height="64.12" fill="#BEBEBE"/>
<rect x="521.63" y="253.5" width="7" height="79.67" fill="#ADD8E6"/>
<rect x="521.63" y="333.17" width="7" height="80.63" fill="#BEBEBE"/>
<rect x="529.97" y="253.5" width="7" height="50.98" fill="#ADD8E6"/>
<rect x="529.97" y="304.48" width="7" height="109.32" fill="#BEBEBE"/>
<rect x="538.3" y="253.5" width="7" height="51.94" fill="#ADD8E6"/>
<rect x="538.3" y="305.44" width="7" height="108.36" fill="#BEBEBE"/>
<rect x="546.64" y="253.5" width="7" height="33.02" fill="#ADD8E6"/>
<rect x="546.64" y="286.52" width="7" height="127.28" fill="#BEBEBE"/>
<rect x="554.97" y="253.5" width="7" height="22.76" fill="#ADD8E6"/>
<rect x="554.97" y="276.26" width="7" height="137.54" fill="#BEBEBE"/>
<rect x="563.31" y="253.5" width="7" height="18.27" fill="#ADD8E6"/>
<rect x="563.31" y="271.77" width="7" height="142.03" fill="#BEBEBE"/>
<rect x="571.64" y="253.5" width="7" height="10.1" fill="#ADD8E6"/>
<rect x="571.64" y="263.6" width="7" height="150.2" fill="#BEBEBE"/>
<rect x="579.98" y="253.5" width="7" height="2.24" fill="#ADD8E6"/>
<rect x="579.98" y="255.74" width="7" height="158.06" fill="#BEBEBE"/>
<rect x="588.31" y="253.5" width="7" height="0" fill="#ADD8E6"/>
<rect x="588.31" y="253.5" width="7" height="160.3" fill="#BEBEBE"/>
<rect x="596.65" y="253.5" width="7" height="0" fill="#ADD8E6"/>
<rect x="596.65" y="253.5" width="7" height="160.3" fill="#BEBEBE"/>
<rect x="604.98" y="253.5" width="7" height="0" fill="#ADD8E6"/>
<rect x="604.98" y="253.5" width="7" height="160.3" fill="#BEBEBE"/>
<rect x="613.32" y="253.5" width="7" height="0" fill="#ADD8E6"/>
<rect x="613.32" y="253.5" width="7" height="160.3" fill="#BEBEBE"/>
<rect x="621.65" y="253.5" width="7" height="0" fill="#ADD8E6"/>
<rect x="621.65" y="253.5" width="7" height="160.3" fill="#BEBEBE"/>
</g>
<rect x="470.4" y="245.6" width="169.1" height="175.8" fill="none" stroke="#d6d6d6" stroke-width="1"/>
<line x1="468" y1="413.8" x2="470.4" y2="413.8" stroke="#c8c8c8" stroke-width="0.8"/><line x1="468" y1="381.74" x2="470.4" y2="381.74" stroke="#c8c8c8" stroke-width="0.8"/><line x1="468" y1="349.68" x2="470.4" y2="349.68" stroke="#c8c8c8" stroke-width="0.8"/><line x1="468" y1="317.62" x2="470.4" y2="317.62" stroke="#c8c8c8" stroke-width="0.8"/><line x1="468" y1="285.56" x2="470.4" y2="285.56" stroke="#c8c8c8" stroke-width="0.8"/><line x1="468" y1="253.5" x2="470.4" y2="253.5" stroke="#c8c8c8" stroke-width="0.8"/><line x1="478.5" y1="421.4" x2="478.5" y2="423.8" stroke="#c8c8c8" stroke-width="0.8"/><line x1="490.18" y1="421.4" x2="490.18" y2="423.8" stroke="#c8c8c8" stroke-width="0.8"/><line x1="501.85" y1="421.4" x2="501.85" y2="423.8" stroke="#c8c8c8" stroke-width="0.8"/><line x1="513.53" y1="421.4" x2="513.53" y2="423.8" stroke="#c8c8c8" stroke-width="0.8"/><line x1="525.2" y1="421.4" x2="525.2" y2="423.8" stroke="#c8c8c8" stroke-width="0.8"/><line x1="536.88" y1="421.4" x2="536.88" y2="423.8" stroke="#c8c8c8" stroke-width="0.8"/><line x1="548.56" y1="421.4" x2="548.56" y2="423.8" stroke="#c8c8c8" stroke-width="0.8"/><line x1="560.23" y1="421.4" x2="560.23" y2="423.8" stroke="#c8c8c8" stroke-width="0.8"/><line x1="571.91" y1="421.4" x2="571.91" y2="423.8" stroke="#c8c8c8" stroke-width="0.8"/><line x1="583.58" y1="421.4" x2="583.58" y2="423.8" stroke="#c8c8c8" stroke-width="0.8"/><line x1="595.26" y1="421.4" x2="595.26" y2="423.8" stroke="#c8c8c8" stroke-width="0.8"/><line x1="606.94" y1="421.4" x2="606.94" y2="423.8" stroke="#c8c8c8" stroke-width="0.8"/><line x1="618.61" y1="421.4" x2="618.61" y2="423.8" stroke="#c8c8c8" stroke-width="0.8"/><line x1="630.29" y1="421.4" x2="630.29" y2="423.8" stroke="#c8c8c8" stroke-width="0.8"/>
<text transform="translate(464.8,416.5) scale(1,1.1)" font-size="8.73" text-anchor="end" font-weight="normal" fill="#1a1a1a">0</text>
<text transform="translate(464.8,384.44) scale(1,1.1)" font-size="8.73" text-anchor="end" font-weight="normal" fill="#1a1a1a">20</text>
<text transform="translate(464.8,352.38) scale(1,1.1)" font-size="8.73" text-anchor="end" font-weight="normal" fill="#1a1a1a">40</text>
<text transform="translate(464.8,320.32) scale(1,1.1)" font-size="8.73" text-anchor="end" font-weight="normal" fill="#1a1a1a">60</text>
<text transform="translate(464.8,288.26) scale(1,1.1)" font-size="8.73" text-anchor="end" font-weight="normal" fill="#1a1a1a">80</text>
<text transform="translate(464.8,256.2) scale(1,1.1)" font-size="8.73" text-anchor="end" font-weight="normal" fill="#1a1a1a">100</text>
<text transform="translate(479.5,425.2) rotate(-45) scale(1,1.05)" font-size="8.73" text-anchor="end" fill="#1a1a1a" dy="0.7em">0</text>
<text transform="translate(491.18,425.2) rotate(-45) scale(1,1.05)" font-size="8.73" text-anchor="end" fill="#1a1a1a" dy="0.7em">7</text>
<text transform="translate(503.35,425.4) rotate(-45) scale(1,1.05)" font-size="8.73" text-anchor="end" fill="#1a1a1a" dy="0.7em">14</text>
<text transform="translate(515.03,425.4) rotate(-45) scale(1,1.05)" font-size="8.73" text-anchor="end" fill="#1a1a1a" dy="0.7em">21</text>
<text transform="translate(526.7,425.4) rotate(-45) scale(1,1.05)" font-size="8.73" text-anchor="end" fill="#1a1a1a" dy="0.7em">28</text>
<text transform="translate(538.38,425.4) rotate(-45) scale(1,1.05)" font-size="8.73" text-anchor="end" fill="#1a1a1a" dy="0.7em">35</text>
<text transform="translate(550.06,425.4) rotate(-45) scale(1,1.05)" font-size="8.73" text-anchor="end" fill="#1a1a1a" dy="0.7em">42</text>
<text transform="translate(561.73,425.4) rotate(-45) scale(1,1.05)" font-size="8.73" text-anchor="end" fill="#1a1a1a" dy="0.7em">49</text>
<text transform="translate(573.41,425.4) rotate(-45) scale(1,1.05)" font-size="8.73" text-anchor="end" fill="#1a1a1a" dy="0.7em">56</text>
<text transform="translate(585.08,425.4) rotate(-45) scale(1,1.05)" font-size="8.73" text-anchor="end" fill="#1a1a1a" dy="0.7em">63</text>
<text transform="translate(596.76,425.4) rotate(-45) scale(1,1.05)" font-size="8.73" text-anchor="end" fill="#1a1a1a" dy="0.7em">70</text>
<text transform="translate(608.44,425.4) rotate(-45) scale(1,1.05)" font-size="8.73" text-anchor="end" fill="#1a1a1a" dy="0.7em">77</text>
<text transform="translate(620.11,425.4) rotate(-45) scale(1,1.05)" font-size="8.73" text-anchor="end" fill="#1a1a1a" dy="0.7em">84</text>
<text transform="translate(631.79,425.4) rotate(-45) scale(1,1.05)" font-size="8.73" text-anchor="end" fill="#1a1a1a" dy="0.7em">91</text>
<text transform="translate(466.8,240) scale(1,1.1)" font-size="8.73" text-anchor="start" font-weight="normal" fill="#1a1a1a">No prior infection, two doses BNT162b2</text>
<text transform="translate(554.95,450.6) scale(1,1.1)" font-size="8.73" text-anchor="middle" font-weight="normal" fill="#1a1a1a">Time from first vaccination (days)</text>
<text transform="translate(443.1,333.5) rotate(-90)" font-size="8.77" text-anchor="middle" fill="#1a1a1a">Percentage of two doses</text>
<text transform="translate(435.6,236.6) scale(1,1.1)" font-size="10" text-anchor="start" font-weight="bold" fill="#000">f</text>
<text transform="translate(651.3,74.7) scale(1,1.1)" font-size="8.73" text-anchor="start" font-weight="normal" fill="#1a1a1a">Age</text>
<text transform="translate(651.3,85.1) scale(1,1.1)" font-size="8.73" text-anchor="start" font-weight="normal" fill="#1a1a1a">(years)</text>
<rect x="652.4" y="91" width="11.9" height="11.8" fill="#374E55" fill-opacity="0.22"/>
<line x1="652.4" y1="96.9" x2="664.3" y2="96.9" stroke="#374E55" stroke-width="0.95" stroke-opacity="0.7"/>
<text transform="translate(668.3,100.1) scale(1,1.1)" font-size="8.73" text-anchor="start" font-weight="normal" fill="#1a1a1a">20</text>
<rect x="652.4" y="104" width="11.9" height="11.8" fill="#DF8F44" fill-opacity="0.22"/>
<line x1="652.4" y1="109.9" x2="664.3" y2="109.9" stroke="#DF8F44" stroke-width="0.95" stroke-opacity="0.7"/>
<text transform="translate(668.3,113.1) scale(1,1.1)" font-size="8.73" text-anchor="start" font-weight="normal" fill="#1a1a1a">40</text>
<rect x="652.4" y="117" width="11.9" height="11.8" fill="#00A1D5" fill-opacity="0.22"/>
<line x1="652.4" y1="122.9" x2="664.3" y2="122.9" stroke="#00A1D5" stroke-width="0.95" stroke-opacity="0.7"/>
<text transform="translate(668.3,126.1) scale(1,1.1)" font-size="8.73" text-anchor="start" font-weight="normal" fill="#1a1a1a">60</text>
<rect x="652.4" y="130" width="11.9" height="11.8" fill="#B24745" fill-opacity="0.22"/>
<line x1="652.4" y1="135.9" x2="664.3" y2="135.9" stroke="#B24745" stroke-width="0.95" stroke-opacity="0.7"/>
<text transform="translate(668.3,139.1) scale(1,1.1)" font-size="8.73" text-anchor="start" font-weight="normal" fill="#1a1a1a">80</text>
<text transform="translate(644,325.7) scale(1,1.1)" font-size="8.73" text-anchor="start" font-weight="normal" fill="#1a1a1a">Two doses</text>
<rect x="645.2" y="331.0" width="11.9" height="12.0" fill="#ADD8E6"/>
<rect x="645.2" y="344.0" width="11.9" height="12.0" fill="#BEBEBE"/>
<text transform="translate(661.7,340.1) scale(1,1.1)" font-size="8.73" text-anchor="start" font-weight="normal" fill="#1a1a1a">No</text>
<text transform="translate(661.7,353.1) scale(1,1.1)" font-size="8.73" text-anchor="start" font-weight="normal" fill="#1a1a1a">Yes</text>
</svg></body></html>
